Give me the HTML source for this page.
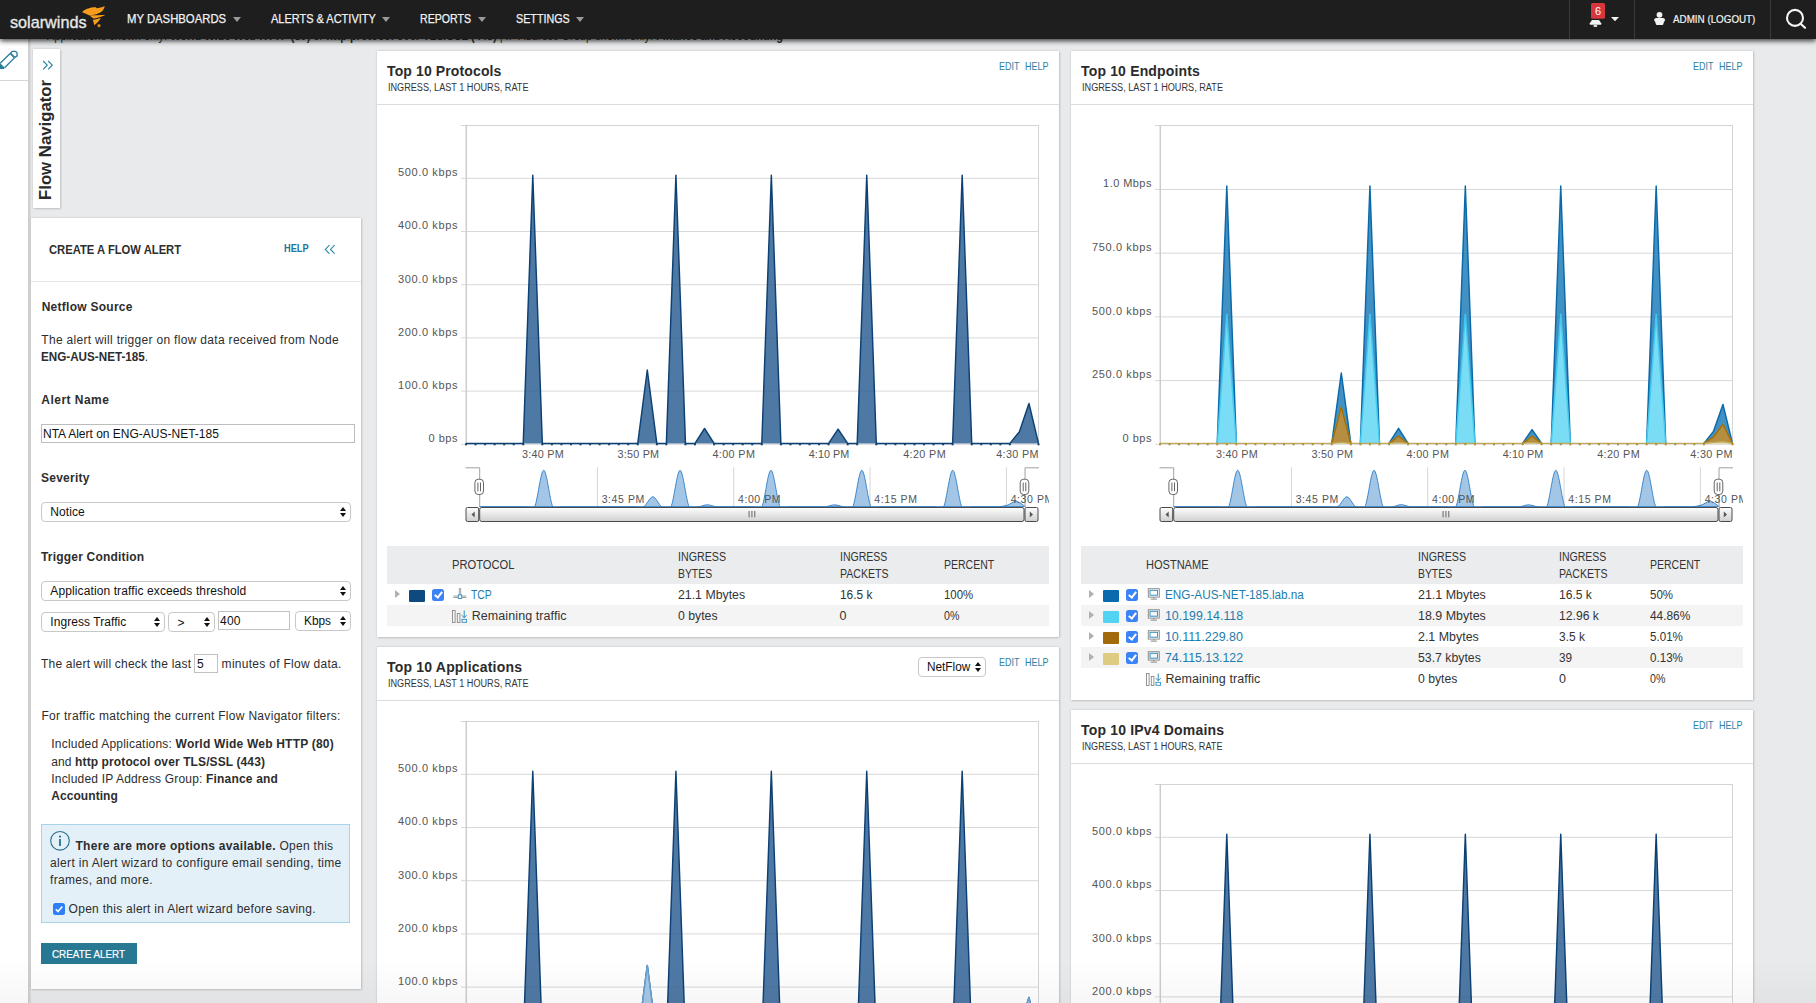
<!DOCTYPE html>
<html><head><meta charset="utf-8"><title>SolarWinds NTA</title>
<style>
html,body{margin:0;padding:0;}
body{width:1816px;height:1003px;overflow:hidden;position:relative;background:#e9eaec;font-family:"Liberation Sans", sans-serif;}
.t{position:absolute;white-space:nowrap;}

.panel{position:absolute;background:#fff;box-shadow:0 0 2px rgba(0,0,0,.18), 1px 1px 2px rgba(0,0,0,.12);}
.hsep{position:absolute;height:1px;background:#dcdcdc;}
.caret{position:absolute;width:0;height:0;border-left:4px solid transparent;border-right:4px solid transparent;border-top:5px solid #9a9a9a;}

.hz{z-index:3;}

.vt{position:absolute;white-space:nowrap;font-size:17px;line-height:17px;font-weight:700;color:#2a2a2a;transform-origin:0 0;}

.sel{position:absolute;background:#fff;border:1px solid #c8c8c8;border-radius:4px;box-sizing:border-box;}
.sel:after{content:"";position:absolute;right:4.3px;top:4px;border-left:3px solid transparent;border-right:3px solid transparent;border-bottom:4px solid #111;}
.sel:before{content:"";position:absolute;right:4.3px;top:10px;border-left:3px solid transparent;border-right:3px solid transparent;border-top:4px solid #111;}
.inp{position:absolute;background:#fff;border:1px solid #c2c2c2;box-sizing:border-box;}

.chk{position:absolute;width:12px;height:12px;border-radius:2.5px;background:#3b83f6;}
.chk:after{content:"";position:absolute;left:3.8px;top:1.3px;width:2.6px;height:6.2px;border:solid #fff;border-width:0 2.1px 2.1px 0;transform:rotate(38deg);}
.tri{position:absolute;width:0;height:0;border-top:4.5px solid transparent;border-bottom:4.5px solid transparent;border-left:5.5px solid #b0b0b0;}

</style></head><body>
<div style="position:absolute;left:0px;top:39px;width:28px;height:964px;background:#fff;"></div><div style="position:absolute;left:0px;top:80px;width:28px;height:1px;background:#d6d6d6;"></div><div style="position:absolute;left:28px;top:39px;width:3px;height:964px;background:linear-gradient(90deg,#c9cacc,#dcdddf);"></div><div style="position:absolute;left:0;top:0;width:1816px;height:39px;background:#1e1e1e;box-shadow:0 2px 5px rgba(0,0,0,.75);z-index:1"></div><div style="position:absolute;left:1569px;top:0;width:1px;height:39px;background:#3a3a3a;z-index:2"></div><div style="position:absolute;left:1634px;top:0;width:1px;height:39px;background:#3a3a3a;z-index:2"></div><div style="position:absolute;left:1770px;top:0;width:1px;height:39px;background:#3a3a3a;z-index:2"></div><svg style="position:absolute;left:76px;top:2px;z-index:3" width="36" height="30" viewBox="76 2 36 30">
<path d="M82 11.9 C85 9.8 88 8.3 91.5 7.6 C93.5 7.2 95 7.1 95.9 7.2 L96.7 8.3 C99 8 102 7.3 104.8 5.9 C104.3 8.5 103 10.6 101 12 C98 13.8 94.5 14.8 91.5 15.3 L89.8 15.6 C87.5 14.5 84.5 13 82 11.9 Z" fill="#f89c1c"/>
<path d="M89.6 15.4 C94 15.2 100 14.9 105.3 14.9 C103 16.4 98 17.6 93.3 18.6 Z" fill="#f89c1c"/>
<path d="M92.9 19.7 C95.5 19.4 98.5 18.7 100.9 18.0 C99.5 20.5 96.5 23.5 94.3 25.2 Z" fill="#f89c1c"/>
<circle cx="99" cy="25.7" r="1.6" fill="#d98816"/>
</svg><div class="caret" style="left:233px;top:16.8px;z-index:3"></div><div class="caret" style="left:382px;top:16.8px;z-index:3"></div><div class="caret" style="left:477.5px;top:16.8px;z-index:3"></div><div class="caret" style="left:575.6px;top:16.8px;z-index:3"></div><svg style="position:absolute;left:1584px;top:0;z-index:3" width="40" height="32" viewBox="1584 0 40 32">
<rect x="1591" y="3" width="14" height="15.7" rx="1.5" fill="#d8363c"/>
<path d="M1592 20 H1599 L1601.2 23.3 V24.8 H1589.8 V23.3 Z" fill="#f2f2f2"/>
<rect x="1593.6" y="24.7" width="3.5" height="2.3" fill="#d8d8d8"/>
<path d="M1611 16.9 H1619 L1615 21.3 Z" fill="#f2f2f2"/>
</svg><svg style="position:absolute;left:1652px;top:10px;z-index:3" width="15" height="17" viewBox="1652 10 15 17">
<circle cx="1659.5" cy="14.8" r="2.9" fill="#f2f2f2"/>
<path d="M1654.2 20 C1654.2 18.6 1655.4 18.1 1657 18.1 H1662.2 C1663.8 18.1 1665 18.6 1665 20 C1665 21 1664.3 21.5 1663.9 22 L1663.4 24 C1663.2 24.8 1662.6 25 1662 25 H1657.2 C1656.6 25 1656 24.8 1655.8 24 L1655.3 22 C1654.9 21.5 1654.2 21 1654.2 20 Z" fill="#f2f2f2"/>
</svg><svg style="position:absolute;left:1782px;top:7px;z-index:3" width="26" height="26" viewBox="0 0 26 26">
<circle cx="13" cy="10.9" r="8" fill="none" stroke="#f4f4f4" stroke-width="2.1"/>
<path d="M18.6 16.8 L23 20.8" stroke="#f4f4f4" stroke-width="2.2" stroke-linecap="round"/>
</svg><svg style="position:absolute;left:0;top:45px" width="28" height="30" viewBox="0 45 28 30">
<path d="M0.2 63.3 L10.7 53.0 M4.6 67.8 L14.6 57.6" fill="none" stroke="#2a7d9c" stroke-width="1.35"/>
<path d="M10.7 53.0 L12.2 51.4 L15.7 51.4 L17.1 52.9 L17.1 55.9 L14.6 57.6" fill="none" stroke="#2a7d9c" stroke-width="1.35"/>
<path d="M10.4 53.4 L14.5 57.5" fill="none" stroke="#2a7d9c" stroke-width="1.8"/>
<path d="M-0.5 62.4 L4.9 67.7 L3.9 68.9 L-0.5 68.9 Z" fill="#2a7d9c"/>
</svg><div class="panel" style="left:33px;top:49px;width:27px;height:159px;"></div><svg style="position:absolute;left:42px;top:60px" width="12" height="11" viewBox="0 0 12 11">
<path d="M1.2 1 L5.2 5.2 L1.2 9.4 M6.2 1 L10.2 5.2 L6.2 9.4" fill="none" stroke="#2c86a6" stroke-width="1.2"/>
</svg><div class="t" style="left:-8.2px;top:131.5px;width:120px;height:17px;"></div><div class="panel" style="left:31px;top:218px;width:330px;height:771px;"></div><div class="hsep" style="left:31px;top:281px;width:330px;background:#e3e3e3;"></div><svg style="position:absolute;left:323px;top:243px" width="14" height="13" viewBox="0 0 14 13">
<path d="M6.4 2.1 L2.3 6.4 L6.4 10.7 M11.6 2.1 L7.5 6.4 L11.6 10.7" fill="none" stroke="#2c86a6" stroke-width="1.1"/>
</svg><div style="position:absolute;left:41px;top:424px;width:312px;height:17px;border:1px solid #bdbdbd;background:#fff;"></div><div class="sel" style="left:41px;top:502px;width:310px;height:20px;"></div><div class="sel" style="left:41px;top:581px;width:310px;height:20px;"></div><div class="sel" style="left:41px;top:612px;width:124px;height:20px;"></div><div class="sel" style="left:168px;top:612px;width:47px;height:20px;"></div><div class="inp" style="left:218px;top:611px;width:72px;height:19px;"></div><div class="sel" style="left:295px;top:611px;width:56px;height:20px;"></div><div class="inp" style="left:194px;top:654px;width:24px;height:19px;"></div><div style="position:absolute;left:41px;top:824px;width:307px;height:97px;background:#e4f0f8;border:1px solid #a8d3e8;"></div><svg style="position:absolute;left:49px;top:830px" width="22" height="22" viewBox="0 0 22 22">
<circle cx="11" cy="10.8" r="9.3" fill="none" stroke="#2a6f8e" stroke-width="1.1"/>
<circle cx="11" cy="6.6" r="1.1" fill="#2a6f8e"/>
<rect x="10.1" y="9" width="1.8" height="7" fill="#2a6f8e"/>
</svg><svg style="position:absolute;left:53px;top:903px" width="12" height="12" viewBox="0 0 12 12">
<rect x="0" y="0" width="12" height="12" rx="2.5" fill="#2d7ff9"/>
<path d="M2.8 6.2 L5 8.5 L9.3 3.5" fill="none" stroke="#fff" stroke-width="1.6"/>
</svg><div style="position:absolute;left:41px;top:943px;width:96px;height:21px;background:#287893;"></div><div class="panel" style="left:377px;top:51px;width:682px;height:586px;"></div><div class="hsep" style="left:377px;top:104px;width:682px;"></div><div class="panel" style="left:377px;top:647px;width:682px;height:400px;"></div><div class="hsep" style="left:377px;top:700px;width:682px;"></div><div class="panel" style="left:1071px;top:51px;width:682px;height:649px;"></div><div class="hsep" style="left:1071px;top:104px;width:682px;"></div><div class="panel" style="left:1071px;top:710px;width:682px;height:340px;"></div><div class="hsep" style="left:1071px;top:763px;width:682px;"></div><svg style="position:absolute;left:377px;top:51px;overflow:hidden" width="682" height="952" viewBox="377 51 682 952"><path d="M461 125.5 H1038.5" stroke="#d4d4d4" stroke-width="1" fill="none"/><path d="M1038.5 125 V444.3" stroke="#d4d4d4" stroke-width="1" fill="none"/><path d="M461 178.3 H1038.5" stroke="#d8d8d8" stroke-width="1" fill="none"/><path d="M461 231.5 H1038.5" stroke="#d8d8d8" stroke-width="1" fill="none"/><path d="M461 284.7 H1038.5" stroke="#d8d8d8" stroke-width="1" fill="none"/><path d="M461 337.9 H1038.5" stroke="#d8d8d8" stroke-width="1" fill="none"/><path d="M461 391.1 H1038.5" stroke="#d8d8d8" stroke-width="1" fill="none"/><path d="M461 444.3 H1038.5" stroke="#d8d8d8" stroke-width="1" fill="none"/><path d="M466.3 125 V444.3" stroke="#cdcdcd" stroke-width="1.5" fill="none"/><polygon points="466.00,443.40 475.54,443.40 485.08,443.40 494.62,443.40 504.17,443.40 513.71,443.40 523.25,443.40 532.79,175.27 542.33,443.40 551.88,443.40 561.42,443.40 570.96,443.40 580.50,443.40 590.04,443.40 599.58,443.40 609.12,443.40 618.67,443.40 628.21,443.40 637.75,443.40 647.29,369.98 656.83,443.40 666.38,443.40 675.92,175.27 685.46,443.40 695.00,443.40 704.54,428.50 714.08,443.40 723.62,443.40 733.17,443.40 742.71,443.40 752.25,443.40 761.79,443.40 771.33,175.27 780.88,443.40 790.42,443.40 799.96,443.40 809.50,443.40 819.04,443.40 828.58,443.40 838.12,429.04 847.67,443.40 857.21,443.40 866.75,175.27 876.29,443.40 885.83,443.40 895.38,443.40 904.92,443.40 914.46,443.40 924.00,443.40 933.54,443.40 943.08,443.40 952.62,443.40 962.17,175.27 971.71,443.40 981.25,443.40 990.79,443.40 1000.33,443.40 1009.88,443.40 1019.42,431.70 1028.96,403.50 1038.50,443.40 1038.50,443.40 1028.96,443.40 1019.42,443.40 1009.88,443.40 1000.33,443.40 990.79,443.40 981.25,443.40 971.71,443.40 962.17,443.40 952.62,443.40 943.08,443.40 933.54,443.40 924.00,443.40 914.46,443.40 904.92,443.40 895.38,443.40 885.83,443.40 876.29,443.40 866.75,443.40 857.21,443.40 847.67,443.40 838.12,443.40 828.58,443.40 819.04,443.40 809.50,443.40 799.96,443.40 790.42,443.40 780.88,443.40 771.33,443.40 761.79,443.40 752.25,443.40 742.71,443.40 733.17,443.40 723.62,443.40 714.08,443.40 704.54,443.40 695.00,443.40 685.46,443.40 675.92,443.40 666.38,443.40 656.83,443.40 647.29,443.40 637.75,443.40 628.21,443.40 618.67,443.40 609.12,443.40 599.58,443.40 590.04,443.40 580.50,443.40 570.96,443.40 561.42,443.40 551.88,443.40 542.33,443.40 532.79,443.40 523.25,443.40 513.71,443.40 504.17,443.40 494.62,443.40 485.08,443.40 475.54,443.40 466.00,443.40" fill="rgba(40,92,145,0.82)" stroke="none"/><polyline points="466.00,443.40 475.54,443.40 485.08,443.40 494.62,443.40 504.17,443.40 513.71,443.40 523.25,443.40 532.79,175.27 542.33,443.40 551.88,443.40 561.42,443.40 570.96,443.40 580.50,443.40 590.04,443.40 599.58,443.40 609.12,443.40 618.67,443.40 628.21,443.40 637.75,443.40 647.29,369.98 656.83,443.40 666.38,443.40 675.92,175.27 685.46,443.40 695.00,443.40 704.54,428.50 714.08,443.40 723.62,443.40 733.17,443.40 742.71,443.40 752.25,443.40 761.79,443.40 771.33,175.27 780.88,443.40 790.42,443.40 799.96,443.40 809.50,443.40 819.04,443.40 828.58,443.40 838.12,429.04 847.67,443.40 857.21,443.40 866.75,175.27 876.29,443.40 885.83,443.40 895.38,443.40 904.92,443.40 914.46,443.40 924.00,443.40 933.54,443.40 943.08,443.40 952.62,443.40 962.17,175.27 971.71,443.40 981.25,443.40 990.79,443.40 1000.33,443.40 1009.88,443.40 1019.42,431.70 1028.96,403.50 1038.50,443.40" fill="none" stroke="#0d4073" stroke-width="1.45" stroke-linejoin="round"/><rect x="465.00" y="443.30" width="2" height="2" fill="#0d4073"/><rect x="474.54" y="443.30" width="2" height="2" fill="#0d4073"/><rect x="484.08" y="443.30" width="2" height="2" fill="#0d4073"/><rect x="493.62" y="443.30" width="2" height="2" fill="#0d4073"/><rect x="503.17" y="443.30" width="2" height="2" fill="#0d4073"/><rect x="512.71" y="443.30" width="2" height="2" fill="#0d4073"/><rect x="522.25" y="443.30" width="2" height="2" fill="#0d4073"/><rect x="541.33" y="443.30" width="2" height="2" fill="#0d4073"/><rect x="550.88" y="443.30" width="2" height="2" fill="#0d4073"/><rect x="560.42" y="443.30" width="2" height="2" fill="#0d4073"/><rect x="569.96" y="443.30" width="2" height="2" fill="#0d4073"/><rect x="579.50" y="443.30" width="2" height="2" fill="#0d4073"/><rect x="589.04" y="443.30" width="2" height="2" fill="#0d4073"/><rect x="598.58" y="443.30" width="2" height="2" fill="#0d4073"/><rect x="608.12" y="443.30" width="2" height="2" fill="#0d4073"/><rect x="617.67" y="443.30" width="2" height="2" fill="#0d4073"/><rect x="627.21" y="443.30" width="2" height="2" fill="#0d4073"/><rect x="636.75" y="443.30" width="2" height="2" fill="#0d4073"/><rect x="655.83" y="443.30" width="2" height="2" fill="#0d4073"/><rect x="665.38" y="443.30" width="2" height="2" fill="#0d4073"/><rect x="684.46" y="443.30" width="2" height="2" fill="#0d4073"/><rect x="694.00" y="443.30" width="2" height="2" fill="#0d4073"/><rect x="713.08" y="443.30" width="2" height="2" fill="#0d4073"/><rect x="722.62" y="443.30" width="2" height="2" fill="#0d4073"/><rect x="732.17" y="443.30" width="2" height="2" fill="#0d4073"/><rect x="741.71" y="443.30" width="2" height="2" fill="#0d4073"/><rect x="751.25" y="443.30" width="2" height="2" fill="#0d4073"/><rect x="760.79" y="443.30" width="2" height="2" fill="#0d4073"/><rect x="779.88" y="443.30" width="2" height="2" fill="#0d4073"/><rect x="789.42" y="443.30" width="2" height="2" fill="#0d4073"/><rect x="798.96" y="443.30" width="2" height="2" fill="#0d4073"/><rect x="808.50" y="443.30" width="2" height="2" fill="#0d4073"/><rect x="818.04" y="443.30" width="2" height="2" fill="#0d4073"/><rect x="827.58" y="443.30" width="2" height="2" fill="#0d4073"/><rect x="846.67" y="443.30" width="2" height="2" fill="#0d4073"/><rect x="856.21" y="443.30" width="2" height="2" fill="#0d4073"/><rect x="875.29" y="443.30" width="2" height="2" fill="#0d4073"/><rect x="884.83" y="443.30" width="2" height="2" fill="#0d4073"/><rect x="894.38" y="443.30" width="2" height="2" fill="#0d4073"/><rect x="903.92" y="443.30" width="2" height="2" fill="#0d4073"/><rect x="913.46" y="443.30" width="2" height="2" fill="#0d4073"/><rect x="923.00" y="443.30" width="2" height="2" fill="#0d4073"/><rect x="932.54" y="443.30" width="2" height="2" fill="#0d4073"/><rect x="942.08" y="443.30" width="2" height="2" fill="#0d4073"/><rect x="951.62" y="443.30" width="2" height="2" fill="#0d4073"/><rect x="970.71" y="443.30" width="2" height="2" fill="#0d4073"/><rect x="980.25" y="443.30" width="2" height="2" fill="#0d4073"/><rect x="989.79" y="443.30" width="2" height="2" fill="#0d4073"/><rect x="999.33" y="443.30" width="2" height="2" fill="#0d4073"/><rect x="1008.88" y="443.30" width="2" height="2" fill="#0d4073"/><rect x="1037.50" y="443.30" width="2" height="2" fill="#0d4073"/></svg><svg style="position:absolute;left:377px;top:451px;overflow:visible" width="682" height="80" viewBox="377 451 682 80"><path d="M597.4 467.3 V506.8" stroke="#d6d6d6" stroke-width="1" fill="none"/><path d="M733.7 467.3 V506.8" stroke="#d6d6d6" stroke-width="1" fill="none"/><path d="M870.0 467.3 V506.8" stroke="#d6d6d6" stroke-width="1" fill="none"/><path d="M1006.4 467.3 V506.8" stroke="#d6d6d6" stroke-width="1" fill="none"/><path d="M480.10,506.80 C481.61,506.80 486.16,506.80 489.19,506.80 C492.22,506.80 495.25,506.80 498.28,506.80 C501.31,506.80 504.34,506.80 507.37,506.80 C510.40,506.80 513.43,506.80 516.46,506.80 C519.49,506.80 522.52,506.80 525.54,506.80 C528.57,506.80 531.60,512.88 534.63,506.80 C537.66,500.72 540.69,470.30 543.72,470.30 C546.75,470.30 549.78,500.72 552.81,506.80 C555.84,512.88 558.87,506.80 561.90,506.80 C564.93,506.80 567.96,506.80 570.99,506.80 C574.02,506.80 577.05,506.80 580.08,506.80 C583.11,506.80 586.14,506.80 589.17,506.80 C592.20,506.80 595.23,506.80 598.26,506.80 C601.29,506.80 604.32,506.80 607.35,506.80 C610.38,506.80 613.41,506.80 616.43,506.80 C619.46,506.80 622.49,506.80 625.52,506.80 C628.55,506.80 631.58,506.80 634.61,506.80 C637.64,506.80 640.67,508.47 643.70,506.80 C646.73,505.13 649.76,496.81 652.79,496.81 C655.82,496.81 658.85,505.13 661.88,506.80 C664.91,508.47 667.94,512.88 670.97,506.80 C674.00,500.72 677.03,470.30 680.06,470.30 C683.09,470.30 686.12,500.72 689.15,506.80 C692.18,512.88 695.21,507.14 698.24,506.80 C701.27,506.46 704.30,504.77 707.33,504.77 C710.35,504.77 713.38,506.46 716.41,506.80 C719.44,507.14 722.47,506.80 725.50,506.80 C728.53,506.80 731.56,506.80 734.59,506.80 C737.62,506.80 740.65,506.80 743.68,506.80 C746.71,506.80 749.74,506.80 752.77,506.80 C755.80,506.80 758.83,512.88 761.86,506.80 C764.89,500.72 767.92,470.30 770.95,470.30 C773.98,470.30 777.01,500.72 780.04,506.80 C783.07,512.88 786.10,506.80 789.13,506.80 C792.16,506.80 795.19,506.80 798.21,506.80 C801.24,506.80 804.27,506.80 807.30,506.80 C810.33,506.80 813.36,506.80 816.39,506.80 C819.42,506.80 822.45,507.13 825.48,506.80 C828.51,506.47 831.54,504.84 834.57,504.84 C837.60,504.84 840.63,506.47 843.66,506.80 C846.69,507.13 849.72,512.88 852.75,506.80 C855.78,500.72 858.81,470.30 861.84,470.30 C864.87,470.30 867.90,500.72 870.93,506.80 C873.96,512.88 876.99,506.80 880.02,506.80 C883.05,506.80 886.08,506.80 889.11,506.80 C892.13,506.80 895.16,506.80 898.19,506.80 C901.22,506.80 904.25,506.80 907.28,506.80 C910.31,506.80 913.34,506.80 916.37,506.80 C919.40,506.80 922.43,506.80 925.46,506.80 C928.49,506.80 931.52,506.80 934.55,506.80 C937.58,506.80 940.61,512.88 943.64,506.80 C946.67,500.72 949.70,470.30 952.73,470.30 C955.76,470.30 958.79,500.72 961.82,506.80 C964.85,512.88 967.88,506.80 970.91,506.80 C973.94,506.80 976.97,506.80 980.00,506.80 C983.02,506.80 986.05,506.80 989.08,506.80 C992.11,506.80 995.14,507.07 998.17,506.80 C1001.20,506.53 1004.23,506.11 1007.26,505.21 C1010.29,504.30 1013.32,501.10 1016.35,501.37 C1019.38,501.63 1023.93,505.89 1025.44,506.80 L1024.54,506.8 L479.20,506.8 Z" fill="#a3c6e6" stroke="none"/><path d="M480.10,506.80 C481.61,506.80 486.16,506.80 489.19,506.80 C492.22,506.80 495.25,506.80 498.28,506.80 C501.31,506.80 504.34,506.80 507.37,506.80 C510.40,506.80 513.43,506.80 516.46,506.80 C519.49,506.80 522.52,506.80 525.54,506.80 C528.57,506.80 531.60,512.88 534.63,506.80 C537.66,500.72 540.69,470.30 543.72,470.30 C546.75,470.30 549.78,500.72 552.81,506.80 C555.84,512.88 558.87,506.80 561.90,506.80 C564.93,506.80 567.96,506.80 570.99,506.80 C574.02,506.80 577.05,506.80 580.08,506.80 C583.11,506.80 586.14,506.80 589.17,506.80 C592.20,506.80 595.23,506.80 598.26,506.80 C601.29,506.80 604.32,506.80 607.35,506.80 C610.38,506.80 613.41,506.80 616.43,506.80 C619.46,506.80 622.49,506.80 625.52,506.80 C628.55,506.80 631.58,506.80 634.61,506.80 C637.64,506.80 640.67,508.47 643.70,506.80 C646.73,505.13 649.76,496.81 652.79,496.81 C655.82,496.81 658.85,505.13 661.88,506.80 C664.91,508.47 667.94,512.88 670.97,506.80 C674.00,500.72 677.03,470.30 680.06,470.30 C683.09,470.30 686.12,500.72 689.15,506.80 C692.18,512.88 695.21,507.14 698.24,506.80 C701.27,506.46 704.30,504.77 707.33,504.77 C710.35,504.77 713.38,506.46 716.41,506.80 C719.44,507.14 722.47,506.80 725.50,506.80 C728.53,506.80 731.56,506.80 734.59,506.80 C737.62,506.80 740.65,506.80 743.68,506.80 C746.71,506.80 749.74,506.80 752.77,506.80 C755.80,506.80 758.83,512.88 761.86,506.80 C764.89,500.72 767.92,470.30 770.95,470.30 C773.98,470.30 777.01,500.72 780.04,506.80 C783.07,512.88 786.10,506.80 789.13,506.80 C792.16,506.80 795.19,506.80 798.21,506.80 C801.24,506.80 804.27,506.80 807.30,506.80 C810.33,506.80 813.36,506.80 816.39,506.80 C819.42,506.80 822.45,507.13 825.48,506.80 C828.51,506.47 831.54,504.84 834.57,504.84 C837.60,504.84 840.63,506.47 843.66,506.80 C846.69,507.13 849.72,512.88 852.75,506.80 C855.78,500.72 858.81,470.30 861.84,470.30 C864.87,470.30 867.90,500.72 870.93,506.80 C873.96,512.88 876.99,506.80 880.02,506.80 C883.05,506.80 886.08,506.80 889.11,506.80 C892.13,506.80 895.16,506.80 898.19,506.80 C901.22,506.80 904.25,506.80 907.28,506.80 C910.31,506.80 913.34,506.80 916.37,506.80 C919.40,506.80 922.43,506.80 925.46,506.80 C928.49,506.80 931.52,506.80 934.55,506.80 C937.58,506.80 940.61,512.88 943.64,506.80 C946.67,500.72 949.70,470.30 952.73,470.30 C955.76,470.30 958.79,500.72 961.82,506.80 C964.85,512.88 967.88,506.80 970.91,506.80 C973.94,506.80 976.97,506.80 980.00,506.80 C983.02,506.80 986.05,506.80 989.08,506.80 C992.11,506.80 995.14,507.07 998.17,506.80 C1001.20,506.53 1004.23,506.11 1007.26,505.21 C1010.29,504.30 1013.32,501.10 1016.35,501.37 C1019.38,501.63 1023.93,505.89 1025.44,506.80" fill="none" stroke="#2f7ec6" stroke-width="0.9"/><path d="M479.2 506.6 H1024.5" stroke="#2f7ec6" stroke-width="0.9"/><path d="M465.5 467.8 H479.7 V506.8" stroke="#a0a0a0" stroke-width="1" fill="none"/><path d="M1039.0 467.8 H1025.04 V506.8" stroke="#a0a0a0" stroke-width="1" fill="none"/><defs><linearGradient id="sbg37751" x1="0" y1="0" x2="0" y2="1"><stop offset="0" stop-color="#ffffff"/><stop offset="1" stop-color="#cfcfcf"/></linearGradient></defs><rect x="466.0" y="507.5" width="12.699999999999989" height="14" rx="1.5" fill="url(#sbg37751)" stroke="#4a4a4a" stroke-width="1"/><rect x="479.7" y="507.5" width="544.3" height="14" rx="2" fill="url(#sbg37751)" stroke="#4a4a4a" stroke-width="1"/><rect x="1025.0" y="507.5" width="13.0" height="14" rx="1.5" fill="url(#sbg37751)" stroke="#4a4a4a" stroke-width="1"/><path d="M474.7 511.5 V517.5 L471.5 514.5 Z" fill="#555"/><path d="M1029.8 511.5 V517.5 L1033.0 514.5 Z" fill="#555"/><rect x="748.4" y="511" width="1.4" height="6.3" fill="#8a8a8a"/><rect x="751.2" y="511" width="1.4" height="6.3" fill="#8a8a8a"/><rect x="754.0" y="511" width="1.4" height="6.3" fill="#8a8a8a"/><rect x="474.9" y="479.2" width="8.6" height="15.3" rx="3.5" fill="#fff" stroke="#555" stroke-width="0.9"/><path d="M477.9 482.5 V491.3 M480.5 482.5 V491.3" stroke="#555" stroke-width="0.9"/><rect x="1020.2" y="479.2" width="8.6" height="15.3" rx="3.5" fill="#fff" stroke="#555" stroke-width="0.9"/><path d="M1023.2 482.5 V491.3 M1025.8 482.5 V491.3" stroke="#555" stroke-width="0.9"/></svg><div style="position:absolute;left:387px;top:546px;width:662px;height:37.700000000000045px;background:#ebecee"></div><div class="tri" style="left:394.9px;top:590.1px"></div><div style="position:absolute;left:408.9px;top:589.7px;width:16px;height:12.3px;border-radius:1px;background:#0e4a80"></div><div class="chk" style="left:432px;top:589.0px"></div><svg style="position:absolute;left:452.5px;top:588.1px" width="14" height="12" viewBox="0 0 14 12">
<path d="M6.3 0 V7.5 M7.7 0 V7.5 M0.3 8.1 H5.2 M8.8 8.1 H13.3 M0.3 9.5 H5.2 M8.8 9.5 H13.3" stroke="#8a8a8a" stroke-width="0.8" fill="none"/>
<rect x="5.3" y="6.9" width="3.4" height="3.6" fill="#fff" stroke="#2b8fc0" stroke-width="0.9"/>
</svg><div style="position:absolute;left:387px;top:604.7px;width:662px;height:21px;background:#f4f4f5"></div><svg style="position:absolute;left:452px;top:610.4px" width="16" height="13" viewBox="0 0 16 13">
<rect x="0.5" y="0.5" width="2.6" height="12" fill="none" stroke="#8a8a8a" stroke-width="0.9"/>
<rect x="5.3" y="3.5" width="2.6" height="9" fill="none" stroke="#8a8a8a" stroke-width="0.9"/>
<path d="M12.2 0.5 V7.6 M9.8 5.2 L12.2 7.8 L14.6 5.2" stroke="#2b8fc0" stroke-width="1" fill="none"/>
<rect x="10" y="9.3" width="4.4" height="3" fill="none" stroke="#2b8fc0" stroke-width="0.9"/>
</svg><div style="position:absolute;left:1081px;top:546px;width:662px;height:37.700000000000045px;background:#ebecee"></div><div class="tri" style="left:1088.9px;top:590.1px"></div><div style="position:absolute;left:1102.9px;top:589.7px;width:16px;height:12.3px;border-radius:1px;background:#0b6aad"></div><div class="chk" style="left:1126px;top:589.0px"></div><svg style="position:absolute;left:1146.5px;top:588.1px" width="14" height="14" viewBox="0 0 14 14">
<rect x="1.3" y="0.7" width="11" height="8.4" fill="none" stroke="#8a8a8a" stroke-width="0.95"/>
<rect x="3.0" y="2.3" width="7.6" height="4.9" fill="none" stroke="#2d8fbf" stroke-width="0.95"/>
<path d="M6.8 9.1 V10.6 M3.6 11.1 H10.0" stroke="#8a8a8a" stroke-width="1" fill="none"/>
</svg><div style="position:absolute;left:1081px;top:604.7px;width:662px;height:21px;background:#f4f4f5"></div><div class="tri" style="left:1088.9px;top:611.1px"></div><div style="position:absolute;left:1102.9px;top:610.7px;width:16px;height:12.3px;border-radius:1px;background:#52d3f3"></div><div class="chk" style="left:1126px;top:610.0px"></div><svg style="position:absolute;left:1146.5px;top:609.1px" width="14" height="14" viewBox="0 0 14 14">
<rect x="1.3" y="0.7" width="11" height="8.4" fill="none" stroke="#8a8a8a" stroke-width="0.95"/>
<rect x="3.0" y="2.3" width="7.6" height="4.9" fill="none" stroke="#2d8fbf" stroke-width="0.95"/>
<path d="M6.8 9.1 V10.6 M3.6 11.1 H10.0" stroke="#8a8a8a" stroke-width="1" fill="none"/>
</svg><div class="tri" style="left:1088.9px;top:632.1px"></div><div style="position:absolute;left:1102.9px;top:631.7px;width:16px;height:12.3px;border-radius:1px;background:#a26a0c"></div><div class="chk" style="left:1126px;top:631.0px"></div><svg style="position:absolute;left:1146.5px;top:630.1px" width="14" height="14" viewBox="0 0 14 14">
<rect x="1.3" y="0.7" width="11" height="8.4" fill="none" stroke="#8a8a8a" stroke-width="0.95"/>
<rect x="3.0" y="2.3" width="7.6" height="4.9" fill="none" stroke="#2d8fbf" stroke-width="0.95"/>
<path d="M6.8 9.1 V10.6 M3.6 11.1 H10.0" stroke="#8a8a8a" stroke-width="1" fill="none"/>
</svg><div style="position:absolute;left:1081px;top:646.7px;width:662px;height:21px;background:#f4f4f5"></div><div class="tri" style="left:1088.9px;top:653.1px"></div><div style="position:absolute;left:1102.9px;top:652.7px;width:16px;height:12.3px;border-radius:1px;background:#dccb80"></div><div class="chk" style="left:1126px;top:652.0px"></div><svg style="position:absolute;left:1146.5px;top:651.1px" width="14" height="14" viewBox="0 0 14 14">
<rect x="1.3" y="0.7" width="11" height="8.4" fill="none" stroke="#8a8a8a" stroke-width="0.95"/>
<rect x="3.0" y="2.3" width="7.6" height="4.9" fill="none" stroke="#2d8fbf" stroke-width="0.95"/>
<path d="M6.8 9.1 V10.6 M3.6 11.1 H10.0" stroke="#8a8a8a" stroke-width="1" fill="none"/>
</svg><svg style="position:absolute;left:1146px;top:673.4px" width="16" height="13" viewBox="0 0 16 13">
<rect x="0.5" y="0.5" width="2.6" height="12" fill="none" stroke="#8a8a8a" stroke-width="0.9"/>
<rect x="5.3" y="3.5" width="2.6" height="9" fill="none" stroke="#8a8a8a" stroke-width="0.9"/>
<path d="M12.2 0.5 V7.6 M9.8 5.2 L12.2 7.8 L14.6 5.2" stroke="#2b8fc0" stroke-width="1" fill="none"/>
<rect x="10" y="9.3" width="4.4" height="3" fill="none" stroke="#2b8fc0" stroke-width="0.9"/>
</svg><svg style="position:absolute;left:1071px;top:51px;overflow:hidden" width="682" height="952" viewBox="1071 51 682 952"><path d="M1155 125.5 H1732.5" stroke="#d4d4d4" stroke-width="1" fill="none"/><path d="M1732.5 125 V444.3" stroke="#d4d4d4" stroke-width="1" fill="none"/><path d="M1155 189.5 H1732.5" stroke="#d8d8d8" stroke-width="1" fill="none"/><path d="M1155 253.2 H1732.5" stroke="#d8d8d8" stroke-width="1" fill="none"/><path d="M1155 316.9 H1732.5" stroke="#d8d8d8" stroke-width="1" fill="none"/><path d="M1155 380.6 H1732.5" stroke="#d8d8d8" stroke-width="1" fill="none"/><path d="M1155 444.3 H1732.5" stroke="#d8d8d8" stroke-width="1" fill="none"/><path d="M1160.3 125 V444.3" stroke="#cdcdcd" stroke-width="1.5" fill="none"/><polygon points="1160.00,443.40 1169.54,443.40 1179.08,443.40 1188.62,443.40 1198.17,443.40 1207.71,443.40 1217.25,443.40 1226.79,186.05 1236.33,443.40 1245.88,443.40 1255.42,443.40 1264.96,443.40 1274.50,443.40 1284.04,443.40 1293.58,443.40 1303.12,443.40 1312.67,443.40 1322.21,443.40 1331.75,443.40 1341.29,373.08 1350.83,443.40 1360.38,443.40 1369.92,186.05 1379.46,443.40 1389.00,443.40 1398.54,428.37 1408.08,443.40 1417.62,443.40 1427.17,443.40 1436.71,443.40 1446.25,443.40 1455.79,443.40 1465.33,186.05 1474.88,443.40 1484.42,443.40 1493.96,443.40 1503.50,443.40 1513.04,443.40 1522.58,443.40 1532.12,429.64 1541.67,443.40 1551.21,443.40 1560.75,186.05 1570.29,443.40 1579.83,443.40 1589.38,443.40 1598.92,443.40 1608.46,443.40 1618.00,443.40 1627.54,443.40 1637.08,443.40 1646.62,443.40 1656.17,186.05 1665.71,443.40 1675.25,443.40 1684.79,443.40 1694.33,443.40 1703.88,443.40 1713.42,431.42 1722.96,404.42 1732.50,443.40 1732.50,443.40 1722.96,424.29 1713.42,436.78 1703.88,443.40 1694.33,443.40 1684.79,443.40 1675.25,443.40 1665.71,443.40 1656.17,314.22 1646.62,443.40 1637.08,443.40 1627.54,443.40 1618.00,443.40 1608.46,443.40 1598.92,443.40 1589.38,443.40 1579.83,443.40 1570.29,443.40 1560.75,314.22 1551.21,443.40 1541.67,443.40 1532.12,436.01 1522.58,443.40 1513.04,443.40 1503.50,443.40 1493.96,443.40 1484.42,443.40 1474.88,443.40 1465.33,314.22 1455.79,443.40 1446.25,443.40 1436.71,443.40 1427.17,443.40 1417.62,443.40 1408.08,443.40 1398.54,436.01 1389.00,443.40 1379.46,443.40 1369.92,314.22 1360.38,443.40 1350.83,443.40 1341.29,406.71 1331.75,443.40 1322.21,443.40 1312.67,443.40 1303.12,443.40 1293.58,443.40 1284.04,443.40 1274.50,443.40 1264.96,443.40 1255.42,443.40 1245.88,443.40 1236.33,443.40 1226.79,314.22 1217.25,443.40 1207.71,443.40 1198.17,443.40 1188.62,443.40 1179.08,443.40 1169.54,443.40 1160.00,443.40" fill="rgba(18,118,182,0.80)" stroke="none"/><path d="M1217.25,443.40 L1226.79,186.05 M1226.79,186.05 L1236.33,443.40 M1331.75,443.40 L1341.29,373.08 M1341.29,373.08 L1350.83,443.40 M1360.38,443.40 L1369.92,186.05 M1369.92,186.05 L1379.46,443.40 M1389.00,443.40 L1398.54,428.37 M1398.54,428.37 L1408.08,443.40 M1455.79,443.40 L1465.33,186.05 M1465.33,186.05 L1474.88,443.40 M1522.58,443.40 L1532.12,429.64 M1532.12,429.64 L1541.67,443.40 M1551.21,443.40 L1560.75,186.05 M1560.75,186.05 L1570.29,443.40 M1646.62,443.40 L1656.17,186.05 M1656.17,186.05 L1665.71,443.40 M1703.88,443.40 L1713.42,431.42 M1713.42,431.42 L1722.96,404.42 M1722.96,404.42 L1732.50,443.40 " fill="none" stroke="#0b69a9" stroke-width="1.45" stroke-linejoin="round" stroke-linecap="round"/><polygon points="1160.00,443.40 1169.54,443.40 1179.08,443.40 1188.62,443.40 1198.17,443.40 1207.71,443.40 1217.25,443.40 1226.79,314.22 1236.33,443.40 1245.88,443.40 1255.42,443.40 1264.96,443.40 1274.50,443.40 1284.04,443.40 1293.58,443.40 1303.12,443.40 1312.67,443.40 1322.21,443.40 1331.75,443.40 1341.29,406.71 1350.83,443.40 1360.38,443.40 1369.92,314.22 1379.46,443.40 1389.00,443.40 1398.54,436.01 1408.08,443.40 1417.62,443.40 1427.17,443.40 1436.71,443.40 1446.25,443.40 1455.79,443.40 1465.33,314.22 1474.88,443.40 1484.42,443.40 1493.96,443.40 1503.50,443.40 1513.04,443.40 1522.58,443.40 1532.12,436.01 1541.67,443.40 1551.21,443.40 1560.75,314.22 1570.29,443.40 1579.83,443.40 1589.38,443.40 1598.92,443.40 1608.46,443.40 1618.00,443.40 1627.54,443.40 1637.08,443.40 1646.62,443.40 1656.17,314.22 1665.71,443.40 1675.25,443.40 1684.79,443.40 1694.33,443.40 1703.88,443.40 1713.42,436.78 1722.96,424.29 1732.50,443.40 1732.50,443.40 1722.96,424.29 1713.42,436.78 1703.88,443.40 1694.33,443.40 1684.79,443.40 1675.25,443.40 1665.71,443.40 1656.17,443.40 1646.62,443.40 1637.08,443.40 1627.54,443.40 1618.00,443.40 1608.46,443.40 1598.92,443.40 1589.38,443.40 1579.83,443.40 1570.29,443.40 1560.75,443.40 1551.21,443.40 1541.67,443.40 1532.12,436.01 1522.58,443.40 1513.04,443.40 1503.50,443.40 1493.96,443.40 1484.42,443.40 1474.88,443.40 1465.33,443.40 1455.79,443.40 1446.25,443.40 1436.71,443.40 1427.17,443.40 1417.62,443.40 1408.08,443.40 1398.54,436.01 1389.00,443.40 1379.46,443.40 1369.92,443.40 1360.38,443.40 1350.83,443.40 1341.29,406.71 1331.75,443.40 1322.21,443.40 1312.67,443.40 1303.12,443.40 1293.58,443.40 1284.04,443.40 1274.50,443.40 1264.96,443.40 1255.42,443.40 1245.88,443.40 1236.33,443.40 1226.79,443.40 1217.25,443.40 1207.71,443.40 1198.17,443.40 1188.62,443.40 1179.08,443.40 1169.54,443.40 1160.00,443.40" fill="rgba(118,220,245,0.97)" stroke="none"/><path d="M1217.25,443.40 L1226.79,314.22 M1226.79,314.22 L1236.33,443.40 M1331.75,443.40 L1341.29,406.71 M1341.29,406.71 L1350.83,443.40 M1360.38,443.40 L1369.92,314.22 M1369.92,314.22 L1379.46,443.40 M1389.00,443.40 L1398.54,436.01 M1398.54,436.01 L1408.08,443.40 M1455.79,443.40 L1465.33,314.22 M1465.33,314.22 L1474.88,443.40 M1522.58,443.40 L1532.12,436.01 M1532.12,436.01 L1541.67,443.40 M1551.21,443.40 L1560.75,314.22 M1560.75,314.22 L1570.29,443.40 M1646.62,443.40 L1656.17,314.22 M1656.17,314.22 L1665.71,443.40 M1703.88,443.40 L1713.42,436.78 M1713.42,436.78 L1722.96,424.29 M1722.96,424.29 L1732.50,443.40 " fill="none" stroke="#3fcbef" stroke-width="1.45" stroke-linejoin="round" stroke-linecap="round"/><polygon points="1160.00,443.40 1169.54,443.40 1179.08,443.40 1188.62,443.40 1198.17,443.40 1207.71,443.40 1217.25,443.40 1226.79,443.40 1236.33,443.40 1245.88,443.40 1255.42,443.40 1264.96,443.40 1274.50,443.40 1284.04,443.40 1293.58,443.40 1303.12,443.40 1312.67,443.40 1322.21,443.40 1331.75,443.40 1341.29,406.71 1350.83,443.40 1360.38,443.40 1369.92,443.40 1379.46,443.40 1389.00,443.40 1398.54,436.01 1408.08,443.40 1417.62,443.40 1427.17,443.40 1436.71,443.40 1446.25,443.40 1455.79,443.40 1465.33,443.40 1474.88,443.40 1484.42,443.40 1493.96,443.40 1503.50,443.40 1513.04,443.40 1522.58,443.40 1532.12,436.01 1541.67,443.40 1551.21,443.40 1560.75,443.40 1570.29,443.40 1579.83,443.40 1589.38,443.40 1598.92,443.40 1608.46,443.40 1618.00,443.40 1627.54,443.40 1637.08,443.40 1646.62,443.40 1656.17,443.40 1665.71,443.40 1675.25,443.40 1684.79,443.40 1694.33,443.40 1703.88,443.40 1713.42,436.78 1722.96,424.29 1732.50,443.40 1732.50,443.40 1722.96,441.62 1713.42,442.38 1703.88,443.40 1694.33,443.40 1684.79,443.40 1675.25,443.40 1665.71,443.40 1656.17,443.40 1646.62,443.40 1637.08,443.40 1627.54,443.40 1618.00,443.40 1608.46,443.40 1598.92,443.40 1589.38,443.40 1579.83,443.40 1570.29,443.40 1560.75,443.40 1551.21,443.40 1541.67,443.40 1532.12,442.64 1522.58,443.40 1513.04,443.40 1503.50,443.40 1493.96,443.40 1484.42,443.40 1474.88,443.40 1465.33,443.40 1455.79,443.40 1446.25,443.40 1436.71,443.40 1427.17,443.40 1417.62,443.40 1408.08,443.40 1398.54,442.64 1389.00,443.40 1379.46,443.40 1369.92,443.40 1360.38,443.40 1350.83,443.40 1341.29,442.38 1331.75,443.40 1322.21,443.40 1312.67,443.40 1303.12,443.40 1293.58,443.40 1284.04,443.40 1274.50,443.40 1264.96,443.40 1255.42,443.40 1245.88,443.40 1236.33,443.40 1226.79,443.40 1217.25,443.40 1207.71,443.40 1198.17,443.40 1188.62,443.40 1179.08,443.40 1169.54,443.40 1160.00,443.40" fill="rgba(176,132,50,0.92)" stroke="none"/><path d="M1331.75,443.40 L1341.29,406.71 M1341.29,406.71 L1350.83,443.40 M1389.00,443.40 L1398.54,436.01 M1398.54,436.01 L1408.08,443.40 M1522.58,443.40 L1532.12,436.01 M1532.12,436.01 L1541.67,443.40 M1703.88,443.40 L1713.42,436.78 M1713.42,436.78 L1722.96,424.29 M1722.96,424.29 L1732.50,443.40 " fill="none" stroke="#a56c00" stroke-width="1.45" stroke-linejoin="round" stroke-linecap="round"/><polygon points="1160.00,443.40 1169.54,443.40 1179.08,443.40 1188.62,443.40 1198.17,443.40 1207.71,443.40 1217.25,443.40 1226.79,443.40 1236.33,443.40 1245.88,443.40 1255.42,443.40 1264.96,443.40 1274.50,443.40 1284.04,443.40 1293.58,443.40 1303.12,443.40 1312.67,443.40 1322.21,443.40 1331.75,443.40 1341.29,442.38 1350.83,443.40 1360.38,443.40 1369.92,443.40 1379.46,443.40 1389.00,443.40 1398.54,442.64 1408.08,443.40 1417.62,443.40 1427.17,443.40 1436.71,443.40 1446.25,443.40 1455.79,443.40 1465.33,443.40 1474.88,443.40 1484.42,443.40 1493.96,443.40 1503.50,443.40 1513.04,443.40 1522.58,443.40 1532.12,442.64 1541.67,443.40 1551.21,443.40 1560.75,443.40 1570.29,443.40 1579.83,443.40 1589.38,443.40 1598.92,443.40 1608.46,443.40 1618.00,443.40 1627.54,443.40 1637.08,443.40 1646.62,443.40 1656.17,443.40 1665.71,443.40 1675.25,443.40 1684.79,443.40 1694.33,443.40 1703.88,443.40 1713.42,442.38 1722.96,441.62 1732.50,443.40 1732.50,443.40 1722.96,443.40 1713.42,443.40 1703.88,443.40 1694.33,443.40 1684.79,443.40 1675.25,443.40 1665.71,443.40 1656.17,443.40 1646.62,443.40 1637.08,443.40 1627.54,443.40 1618.00,443.40 1608.46,443.40 1598.92,443.40 1589.38,443.40 1579.83,443.40 1570.29,443.40 1560.75,443.40 1551.21,443.40 1541.67,443.40 1532.12,443.40 1522.58,443.40 1513.04,443.40 1503.50,443.40 1493.96,443.40 1484.42,443.40 1474.88,443.40 1465.33,443.40 1455.79,443.40 1446.25,443.40 1436.71,443.40 1427.17,443.40 1417.62,443.40 1408.08,443.40 1398.54,443.40 1389.00,443.40 1379.46,443.40 1369.92,443.40 1360.38,443.40 1350.83,443.40 1341.29,443.40 1331.75,443.40 1322.21,443.40 1312.67,443.40 1303.12,443.40 1293.58,443.40 1284.04,443.40 1274.50,443.40 1264.96,443.40 1255.42,443.40 1245.88,443.40 1236.33,443.40 1226.79,443.40 1217.25,443.40 1207.71,443.40 1198.17,443.40 1188.62,443.40 1179.08,443.40 1169.54,443.40 1160.00,443.40" fill="#d8c77c" stroke="none"/><polyline points="1160.00,443.40 1169.54,443.40 1179.08,443.40 1188.62,443.40 1198.17,443.40 1207.71,443.40 1217.25,443.40 1226.79,443.40 1236.33,443.40 1245.88,443.40 1255.42,443.40 1264.96,443.40 1274.50,443.40 1284.04,443.40 1293.58,443.40 1303.12,443.40 1312.67,443.40 1322.21,443.40 1331.75,443.40 1341.29,442.38 1350.83,443.40 1360.38,443.40 1369.92,443.40 1379.46,443.40 1389.00,443.40 1398.54,442.64 1408.08,443.40 1417.62,443.40 1427.17,443.40 1436.71,443.40 1446.25,443.40 1455.79,443.40 1465.33,443.40 1474.88,443.40 1484.42,443.40 1493.96,443.40 1503.50,443.40 1513.04,443.40 1522.58,443.40 1532.12,442.64 1541.67,443.40 1551.21,443.40 1560.75,443.40 1570.29,443.40 1579.83,443.40 1589.38,443.40 1598.92,443.40 1608.46,443.40 1618.00,443.40 1627.54,443.40 1637.08,443.40 1646.62,443.40 1656.17,443.40 1665.71,443.40 1675.25,443.40 1684.79,443.40 1694.33,443.40 1703.88,443.40 1713.42,442.38 1722.96,441.62 1732.50,443.40" fill="none" stroke="#bfa95a" stroke-width="1.1" stroke-linejoin="round"/><rect x="1159.00" y="443.30" width="2" height="2" fill="#b0902a"/><rect x="1168.54" y="443.30" width="2" height="2" fill="#b0902a"/><rect x="1178.08" y="443.30" width="2" height="2" fill="#b0902a"/><rect x="1187.62" y="443.30" width="2" height="2" fill="#b0902a"/><rect x="1197.17" y="443.30" width="2" height="2" fill="#b0902a"/><rect x="1206.71" y="443.30" width="2" height="2" fill="#b0902a"/><rect x="1216.25" y="443.30" width="2" height="2" fill="#b0902a"/><rect x="1225.79" y="443.30" width="2" height="2" fill="#b0902a"/><rect x="1235.33" y="443.30" width="2" height="2" fill="#b0902a"/><rect x="1244.88" y="443.30" width="2" height="2" fill="#b0902a"/><rect x="1254.42" y="443.30" width="2" height="2" fill="#b0902a"/><rect x="1263.96" y="443.30" width="2" height="2" fill="#b0902a"/><rect x="1273.50" y="443.30" width="2" height="2" fill="#b0902a"/><rect x="1283.04" y="443.30" width="2" height="2" fill="#b0902a"/><rect x="1292.58" y="443.30" width="2" height="2" fill="#b0902a"/><rect x="1302.12" y="443.30" width="2" height="2" fill="#b0902a"/><rect x="1311.67" y="443.30" width="2" height="2" fill="#b0902a"/><rect x="1321.21" y="443.30" width="2" height="2" fill="#b0902a"/><rect x="1330.75" y="443.30" width="2" height="2" fill="#b0902a"/><rect x="1349.83" y="443.30" width="2" height="2" fill="#b0902a"/><rect x="1359.38" y="443.30" width="2" height="2" fill="#b0902a"/><rect x="1368.92" y="443.30" width="2" height="2" fill="#b0902a"/><rect x="1378.46" y="443.30" width="2" height="2" fill="#b0902a"/><rect x="1388.00" y="443.30" width="2" height="2" fill="#b0902a"/><rect x="1407.08" y="443.30" width="2" height="2" fill="#b0902a"/><rect x="1416.62" y="443.30" width="2" height="2" fill="#b0902a"/><rect x="1426.17" y="443.30" width="2" height="2" fill="#b0902a"/><rect x="1435.71" y="443.30" width="2" height="2" fill="#b0902a"/><rect x="1445.25" y="443.30" width="2" height="2" fill="#b0902a"/><rect x="1454.79" y="443.30" width="2" height="2" fill="#b0902a"/><rect x="1464.33" y="443.30" width="2" height="2" fill="#b0902a"/><rect x="1473.88" y="443.30" width="2" height="2" fill="#b0902a"/><rect x="1483.42" y="443.30" width="2" height="2" fill="#b0902a"/><rect x="1492.96" y="443.30" width="2" height="2" fill="#b0902a"/><rect x="1502.50" y="443.30" width="2" height="2" fill="#b0902a"/><rect x="1512.04" y="443.30" width="2" height="2" fill="#b0902a"/><rect x="1521.58" y="443.30" width="2" height="2" fill="#b0902a"/><rect x="1540.67" y="443.30" width="2" height="2" fill="#b0902a"/><rect x="1550.21" y="443.30" width="2" height="2" fill="#b0902a"/><rect x="1559.75" y="443.30" width="2" height="2" fill="#b0902a"/><rect x="1569.29" y="443.30" width="2" height="2" fill="#b0902a"/><rect x="1578.83" y="443.30" width="2" height="2" fill="#b0902a"/><rect x="1588.38" y="443.30" width="2" height="2" fill="#b0902a"/><rect x="1597.92" y="443.30" width="2" height="2" fill="#b0902a"/><rect x="1607.46" y="443.30" width="2" height="2" fill="#b0902a"/><rect x="1617.00" y="443.30" width="2" height="2" fill="#b0902a"/><rect x="1626.54" y="443.30" width="2" height="2" fill="#b0902a"/><rect x="1636.08" y="443.30" width="2" height="2" fill="#b0902a"/><rect x="1645.62" y="443.30" width="2" height="2" fill="#b0902a"/><rect x="1655.17" y="443.30" width="2" height="2" fill="#b0902a"/><rect x="1664.71" y="443.30" width="2" height="2" fill="#b0902a"/><rect x="1674.25" y="443.30" width="2" height="2" fill="#b0902a"/><rect x="1683.79" y="443.30" width="2" height="2" fill="#b0902a"/><rect x="1693.33" y="443.30" width="2" height="2" fill="#b0902a"/><rect x="1702.88" y="443.30" width="2" height="2" fill="#b0902a"/><rect x="1731.50" y="443.30" width="2" height="2" fill="#b0902a"/></svg><svg style="position:absolute;left:1071px;top:451px;overflow:visible" width="682" height="80" viewBox="1071 451 682 80"><path d="M1291.4 467.3 V506.8" stroke="#d6d6d6" stroke-width="1" fill="none"/><path d="M1427.7 467.3 V506.8" stroke="#d6d6d6" stroke-width="1" fill="none"/><path d="M1564.0 467.3 V506.8" stroke="#d6d6d6" stroke-width="1" fill="none"/><path d="M1700.4 467.3 V506.8" stroke="#d6d6d6" stroke-width="1" fill="none"/><path d="M1174.10,506.80 C1175.61,506.80 1180.16,506.80 1183.19,506.80 C1186.22,506.80 1189.25,506.80 1192.28,506.80 C1195.31,506.80 1198.34,506.80 1201.37,506.80 C1204.40,506.80 1207.43,506.80 1210.46,506.80 C1213.49,506.80 1216.52,506.80 1219.55,506.80 C1222.57,506.80 1225.60,512.88 1228.63,506.80 C1231.66,500.72 1234.69,470.30 1237.72,470.30 C1240.75,470.30 1243.78,500.72 1246.81,506.80 C1249.84,512.88 1252.87,506.80 1255.90,506.80 C1258.93,506.80 1261.96,506.80 1264.99,506.80 C1268.02,506.80 1271.05,506.80 1274.08,506.80 C1277.11,506.80 1280.14,506.80 1283.17,506.80 C1286.20,506.80 1289.23,506.80 1292.26,506.80 C1295.29,506.80 1298.32,506.80 1301.35,506.80 C1304.38,506.80 1307.41,506.80 1310.44,506.80 C1313.46,506.80 1316.49,506.80 1319.52,506.80 C1322.55,506.80 1325.58,506.80 1328.61,506.80 C1331.64,506.80 1334.67,508.46 1337.70,506.80 C1340.73,505.14 1343.76,496.83 1346.79,496.83 C1349.82,496.83 1352.85,505.14 1355.88,506.80 C1358.91,508.46 1361.94,512.88 1364.97,506.80 C1368.00,500.72 1371.03,470.30 1374.06,470.30 C1377.09,470.30 1380.12,500.72 1383.15,506.80 C1386.18,512.88 1389.21,507.16 1392.24,506.80 C1395.27,506.44 1398.30,504.67 1401.33,504.67 C1404.35,504.67 1407.38,506.44 1410.41,506.80 C1413.44,507.16 1416.47,506.80 1419.50,506.80 C1422.53,506.80 1425.56,506.80 1428.59,506.80 C1431.62,506.80 1434.65,506.80 1437.68,506.80 C1440.71,506.80 1443.74,506.80 1446.77,506.80 C1449.80,506.80 1452.83,512.88 1455.86,506.80 C1458.89,500.72 1461.92,470.30 1464.95,470.30 C1467.98,470.30 1471.01,500.72 1474.04,506.80 C1477.07,512.88 1480.10,506.80 1483.13,506.80 C1486.16,506.80 1489.19,506.80 1492.22,506.80 C1495.24,506.80 1498.27,506.80 1501.30,506.80 C1504.33,506.80 1507.36,506.80 1510.39,506.80 C1513.42,506.80 1516.45,507.13 1519.48,506.80 C1522.51,506.47 1525.54,504.85 1528.57,504.85 C1531.60,504.85 1534.63,506.47 1537.66,506.80 C1540.69,507.13 1543.72,512.88 1546.75,506.80 C1549.78,500.72 1552.81,470.30 1555.84,470.30 C1558.87,470.30 1561.90,500.72 1564.93,506.80 C1567.96,512.88 1570.99,506.80 1574.02,506.80 C1577.05,506.80 1580.08,506.80 1583.11,506.80 C1586.13,506.80 1589.16,506.80 1592.19,506.80 C1595.22,506.80 1598.25,506.80 1601.28,506.80 C1604.31,506.80 1607.34,506.80 1610.37,506.80 C1613.40,506.80 1616.43,506.80 1619.46,506.80 C1622.49,506.80 1625.52,506.80 1628.55,506.80 C1631.58,506.80 1634.61,512.88 1637.64,506.80 C1640.67,500.72 1643.70,470.30 1646.73,470.30 C1649.76,470.30 1652.79,500.72 1655.82,506.80 C1658.85,512.88 1661.88,506.80 1664.91,506.80 C1667.94,506.80 1670.97,506.80 1674.00,506.80 C1677.02,506.80 1680.05,506.80 1683.08,506.80 C1686.11,506.80 1689.14,507.08 1692.17,506.80 C1695.20,506.52 1698.23,506.02 1701.26,505.10 C1704.29,504.18 1707.32,500.99 1710.35,501.27 C1713.38,501.55 1717.93,505.88 1719.44,506.80 L1718.54,506.8 L1173.20,506.8 Z" fill="#a3c6e6" stroke="none"/><path d="M1174.10,506.80 C1175.61,506.80 1180.16,506.80 1183.19,506.80 C1186.22,506.80 1189.25,506.80 1192.28,506.80 C1195.31,506.80 1198.34,506.80 1201.37,506.80 C1204.40,506.80 1207.43,506.80 1210.46,506.80 C1213.49,506.80 1216.52,506.80 1219.55,506.80 C1222.57,506.80 1225.60,512.88 1228.63,506.80 C1231.66,500.72 1234.69,470.30 1237.72,470.30 C1240.75,470.30 1243.78,500.72 1246.81,506.80 C1249.84,512.88 1252.87,506.80 1255.90,506.80 C1258.93,506.80 1261.96,506.80 1264.99,506.80 C1268.02,506.80 1271.05,506.80 1274.08,506.80 C1277.11,506.80 1280.14,506.80 1283.17,506.80 C1286.20,506.80 1289.23,506.80 1292.26,506.80 C1295.29,506.80 1298.32,506.80 1301.35,506.80 C1304.38,506.80 1307.41,506.80 1310.44,506.80 C1313.46,506.80 1316.49,506.80 1319.52,506.80 C1322.55,506.80 1325.58,506.80 1328.61,506.80 C1331.64,506.80 1334.67,508.46 1337.70,506.80 C1340.73,505.14 1343.76,496.83 1346.79,496.83 C1349.82,496.83 1352.85,505.14 1355.88,506.80 C1358.91,508.46 1361.94,512.88 1364.97,506.80 C1368.00,500.72 1371.03,470.30 1374.06,470.30 C1377.09,470.30 1380.12,500.72 1383.15,506.80 C1386.18,512.88 1389.21,507.16 1392.24,506.80 C1395.27,506.44 1398.30,504.67 1401.33,504.67 C1404.35,504.67 1407.38,506.44 1410.41,506.80 C1413.44,507.16 1416.47,506.80 1419.50,506.80 C1422.53,506.80 1425.56,506.80 1428.59,506.80 C1431.62,506.80 1434.65,506.80 1437.68,506.80 C1440.71,506.80 1443.74,506.80 1446.77,506.80 C1449.80,506.80 1452.83,512.88 1455.86,506.80 C1458.89,500.72 1461.92,470.30 1464.95,470.30 C1467.98,470.30 1471.01,500.72 1474.04,506.80 C1477.07,512.88 1480.10,506.80 1483.13,506.80 C1486.16,506.80 1489.19,506.80 1492.22,506.80 C1495.24,506.80 1498.27,506.80 1501.30,506.80 C1504.33,506.80 1507.36,506.80 1510.39,506.80 C1513.42,506.80 1516.45,507.13 1519.48,506.80 C1522.51,506.47 1525.54,504.85 1528.57,504.85 C1531.60,504.85 1534.63,506.47 1537.66,506.80 C1540.69,507.13 1543.72,512.88 1546.75,506.80 C1549.78,500.72 1552.81,470.30 1555.84,470.30 C1558.87,470.30 1561.90,500.72 1564.93,506.80 C1567.96,512.88 1570.99,506.80 1574.02,506.80 C1577.05,506.80 1580.08,506.80 1583.11,506.80 C1586.13,506.80 1589.16,506.80 1592.19,506.80 C1595.22,506.80 1598.25,506.80 1601.28,506.80 C1604.31,506.80 1607.34,506.80 1610.37,506.80 C1613.40,506.80 1616.43,506.80 1619.46,506.80 C1622.49,506.80 1625.52,506.80 1628.55,506.80 C1631.58,506.80 1634.61,512.88 1637.64,506.80 C1640.67,500.72 1643.70,470.30 1646.73,470.30 C1649.76,470.30 1652.79,500.72 1655.82,506.80 C1658.85,512.88 1661.88,506.80 1664.91,506.80 C1667.94,506.80 1670.97,506.80 1674.00,506.80 C1677.02,506.80 1680.05,506.80 1683.08,506.80 C1686.11,506.80 1689.14,507.08 1692.17,506.80 C1695.20,506.52 1698.23,506.02 1701.26,505.10 C1704.29,504.18 1707.32,500.99 1710.35,501.27 C1713.38,501.55 1717.93,505.88 1719.44,506.80" fill="none" stroke="#2f7ec6" stroke-width="0.9"/><path d="M1173.2 506.6 H1718.5" stroke="#2f7ec6" stroke-width="0.9"/><path d="M1159.5 467.8 H1173.7 V506.8" stroke="#a0a0a0" stroke-width="1" fill="none"/><path d="M1733.0 467.8 H1719.04 V506.8" stroke="#a0a0a0" stroke-width="1" fill="none"/><defs><linearGradient id="sbg107151" x1="0" y1="0" x2="0" y2="1"><stop offset="0" stop-color="#ffffff"/><stop offset="1" stop-color="#cfcfcf"/></linearGradient></defs><rect x="1160.0" y="507.5" width="12.700000000000045" height="14" rx="1.5" fill="url(#sbg107151)" stroke="#4a4a4a" stroke-width="1"/><rect x="1173.7" y="507.5" width="544.3" height="14" rx="2" fill="url(#sbg107151)" stroke="#4a4a4a" stroke-width="1"/><rect x="1719.0" y="507.5" width="13.0" height="14" rx="1.5" fill="url(#sbg107151)" stroke="#4a4a4a" stroke-width="1"/><path d="M1168.7 511.5 V517.5 L1165.5 514.5 Z" fill="#555"/><path d="M1723.8 511.5 V517.5 L1727.0 514.5 Z" fill="#555"/><rect x="1442.4" y="511" width="1.4" height="6.3" fill="#8a8a8a"/><rect x="1445.2" y="511" width="1.4" height="6.3" fill="#8a8a8a"/><rect x="1448.0" y="511" width="1.4" height="6.3" fill="#8a8a8a"/><rect x="1168.9" y="479.2" width="8.6" height="15.3" rx="3.5" fill="#fff" stroke="#555" stroke-width="0.9"/><path d="M1171.9 482.5 V491.3 M1174.5 482.5 V491.3" stroke="#555" stroke-width="0.9"/><rect x="1714.2" y="479.2" width="8.6" height="15.3" rx="3.5" fill="#fff" stroke="#555" stroke-width="0.9"/><path d="M1717.2 482.5 V491.3 M1719.8 482.5 V491.3" stroke="#555" stroke-width="0.9"/></svg><svg style="position:absolute;left:377px;top:647px;overflow:hidden" width="682" height="356" viewBox="377 647 682 356"><path d="M461 721.5 H1038.5" stroke="#d4d4d4" stroke-width="1" fill="none"/><path d="M1038.5 721 V1040.3" stroke="#d4d4d4" stroke-width="1" fill="none"/><path d="M461 774.3 H1038.5" stroke="#d8d8d8" stroke-width="1" fill="none"/><path d="M461 827.5 H1038.5" stroke="#d8d8d8" stroke-width="1" fill="none"/><path d="M461 880.6999999999999 H1038.5" stroke="#d8d8d8" stroke-width="1" fill="none"/><path d="M461 933.9 H1038.5" stroke="#d8d8d8" stroke-width="1" fill="none"/><path d="M461 987.0999999999999 H1038.5" stroke="#d8d8d8" stroke-width="1" fill="none"/><path d="M461 1040.3 H1038.5" stroke="#d8d8d8" stroke-width="1" fill="none"/><path d="M466.3 721 V1040.3" stroke="#cdcdcd" stroke-width="1.5" fill="none"/><polygon points="466.00,1039.40 475.54,1039.40 485.08,1039.40 494.62,1039.40 504.17,1039.40 513.71,1039.40 523.25,1039.40 532.79,771.27 542.33,1039.40 551.88,1039.40 561.42,1039.40 570.96,1039.40 580.50,1039.40 590.04,1039.40 599.58,1039.40 609.12,1039.40 618.67,1039.40 628.21,1039.40 637.75,1039.40 647.29,965.45 656.83,1039.40 666.38,1039.40 675.92,771.27 685.46,1039.40 695.00,1039.40 704.54,1024.50 714.08,1039.40 723.62,1039.40 733.17,1039.40 742.71,1039.40 752.25,1039.40 761.79,1039.40 771.33,771.27 780.88,1039.40 790.42,1039.40 799.96,1039.40 809.50,1039.40 819.04,1039.40 828.58,1039.40 838.12,1025.04 847.67,1039.40 857.21,1039.40 866.75,771.27 876.29,1039.40 885.83,1039.40 895.38,1039.40 904.92,1039.40 914.46,1039.40 924.00,1039.40 933.54,1039.40 943.08,1039.40 952.62,1039.40 962.17,771.27 971.71,1039.40 981.25,1039.40 990.79,1039.40 1000.33,1039.40 1009.88,1039.40 1019.42,1027.70 1028.96,997.37 1038.50,1039.40 1038.50,1039.40 1028.96,997.37 1019.42,1027.70 1009.88,1039.40 1000.33,1039.40 990.79,1039.40 981.25,1039.40 971.71,1039.40 962.17,1039.40 952.62,1039.40 943.08,1039.40 933.54,1039.40 924.00,1039.40 914.46,1039.40 904.92,1039.40 895.38,1039.40 885.83,1039.40 876.29,1039.40 866.75,1039.40 857.21,1039.40 847.67,1039.40 838.12,1025.04 828.58,1039.40 819.04,1039.40 809.50,1039.40 799.96,1039.40 790.42,1039.40 780.88,1039.40 771.33,1039.40 761.79,1039.40 752.25,1039.40 742.71,1039.40 733.17,1039.40 723.62,1039.40 714.08,1039.40 704.54,1024.50 695.00,1039.40 685.46,1039.40 675.92,1039.40 666.38,1039.40 656.83,1039.40 647.29,965.45 637.75,1039.40 628.21,1039.40 618.67,1039.40 609.12,1039.40 599.58,1039.40 590.04,1039.40 580.50,1039.40 570.96,1039.40 561.42,1039.40 551.88,1039.40 542.33,1039.40 532.79,1039.40 523.25,1039.40 513.71,1039.40 504.17,1039.40 494.62,1039.40 485.08,1039.40 475.54,1039.40 466.00,1039.40" fill="rgba(40,92,145,0.82)" stroke="none"/><path d="M523.25,1039.40 L532.79,771.27 M532.79,771.27 L542.33,1039.40 M637.75,1039.40 L647.29,965.45 M647.29,965.45 L656.83,1039.40 M666.38,1039.40 L675.92,771.27 M675.92,771.27 L685.46,1039.40 M695.00,1039.40 L704.54,1024.50 M704.54,1024.50 L714.08,1039.40 M761.79,1039.40 L771.33,771.27 M771.33,771.27 L780.88,1039.40 M828.58,1039.40 L838.12,1025.04 M838.12,1025.04 L847.67,1039.40 M857.21,1039.40 L866.75,771.27 M866.75,771.27 L876.29,1039.40 M952.62,1039.40 L962.17,771.27 M962.17,771.27 L971.71,1039.40 M1009.88,1039.40 L1019.42,1027.70 M1019.42,1027.70 L1028.96,997.37 M1028.96,997.37 L1038.50,1039.40 " fill="none" stroke="#0d4073" stroke-width="1.45" stroke-linejoin="round" stroke-linecap="round"/><polygon points="466.00,1039.40 475.54,1039.40 485.08,1039.40 494.62,1039.40 504.17,1039.40 513.71,1039.40 523.25,1039.40 532.79,1039.40 542.33,1039.40 551.88,1039.40 561.42,1039.40 570.96,1039.40 580.50,1039.40 590.04,1039.40 599.58,1039.40 609.12,1039.40 618.67,1039.40 628.21,1039.40 637.75,1039.40 647.29,965.45 656.83,1039.40 666.38,1039.40 675.92,1039.40 685.46,1039.40 695.00,1039.40 704.54,1024.50 714.08,1039.40 723.62,1039.40 733.17,1039.40 742.71,1039.40 752.25,1039.40 761.79,1039.40 771.33,1039.40 780.88,1039.40 790.42,1039.40 799.96,1039.40 809.50,1039.40 819.04,1039.40 828.58,1039.40 838.12,1025.04 847.67,1039.40 857.21,1039.40 866.75,1039.40 876.29,1039.40 885.83,1039.40 895.38,1039.40 904.92,1039.40 914.46,1039.40 924.00,1039.40 933.54,1039.40 943.08,1039.40 952.62,1039.40 962.17,1039.40 971.71,1039.40 981.25,1039.40 990.79,1039.40 1000.33,1039.40 1009.88,1039.40 1019.42,1027.70 1028.96,997.37 1038.50,1039.40 1038.50,1039.40 1028.96,1039.40 1019.42,1039.40 1009.88,1039.40 1000.33,1039.40 990.79,1039.40 981.25,1039.40 971.71,1039.40 962.17,1039.40 952.62,1039.40 943.08,1039.40 933.54,1039.40 924.00,1039.40 914.46,1039.40 904.92,1039.40 895.38,1039.40 885.83,1039.40 876.29,1039.40 866.75,1039.40 857.21,1039.40 847.67,1039.40 838.12,1039.40 828.58,1039.40 819.04,1039.40 809.50,1039.40 799.96,1039.40 790.42,1039.40 780.88,1039.40 771.33,1039.40 761.79,1039.40 752.25,1039.40 742.71,1039.40 733.17,1039.40 723.62,1039.40 714.08,1039.40 704.54,1039.40 695.00,1039.40 685.46,1039.40 675.92,1039.40 666.38,1039.40 656.83,1039.40 647.29,1039.40 637.75,1039.40 628.21,1039.40 618.67,1039.40 609.12,1039.40 599.58,1039.40 590.04,1039.40 580.50,1039.40 570.96,1039.40 561.42,1039.40 551.88,1039.40 542.33,1039.40 532.79,1039.40 523.25,1039.40 513.71,1039.40 504.17,1039.40 494.62,1039.40 485.08,1039.40 475.54,1039.40 466.00,1039.40" fill="rgba(150,192,228,0.85)" stroke="none"/><polyline points="466.00,1039.40 475.54,1039.40 485.08,1039.40 494.62,1039.40 504.17,1039.40 513.71,1039.40 523.25,1039.40 532.79,1039.40 542.33,1039.40 551.88,1039.40 561.42,1039.40 570.96,1039.40 580.50,1039.40 590.04,1039.40 599.58,1039.40 609.12,1039.40 618.67,1039.40 628.21,1039.40 637.75,1039.40 647.29,965.45 656.83,1039.40 666.38,1039.40 675.92,1039.40 685.46,1039.40 695.00,1039.40 704.54,1024.50 714.08,1039.40 723.62,1039.40 733.17,1039.40 742.71,1039.40 752.25,1039.40 761.79,1039.40 771.33,1039.40 780.88,1039.40 790.42,1039.40 799.96,1039.40 809.50,1039.40 819.04,1039.40 828.58,1039.40 838.12,1025.04 847.67,1039.40 857.21,1039.40 866.75,1039.40 876.29,1039.40 885.83,1039.40 895.38,1039.40 904.92,1039.40 914.46,1039.40 924.00,1039.40 933.54,1039.40 943.08,1039.40 952.62,1039.40 962.17,1039.40 971.71,1039.40 981.25,1039.40 990.79,1039.40 1000.33,1039.40 1009.88,1039.40 1019.42,1027.70 1028.96,997.37 1038.50,1039.40" fill="none" stroke="#6aa5d6" stroke-width="1.45" stroke-linejoin="round"/><rect x="465.00" y="1039.30" width="2" height="2" fill="#0d4073"/><rect x="474.54" y="1039.30" width="2" height="2" fill="#0d4073"/><rect x="484.08" y="1039.30" width="2" height="2" fill="#0d4073"/><rect x="493.62" y="1039.30" width="2" height="2" fill="#0d4073"/><rect x="503.17" y="1039.30" width="2" height="2" fill="#0d4073"/><rect x="512.71" y="1039.30" width="2" height="2" fill="#0d4073"/><rect x="522.25" y="1039.30" width="2" height="2" fill="#0d4073"/><rect x="531.79" y="1039.30" width="2" height="2" fill="#0d4073"/><rect x="541.33" y="1039.30" width="2" height="2" fill="#0d4073"/><rect x="550.88" y="1039.30" width="2" height="2" fill="#0d4073"/><rect x="560.42" y="1039.30" width="2" height="2" fill="#0d4073"/><rect x="569.96" y="1039.30" width="2" height="2" fill="#0d4073"/><rect x="579.50" y="1039.30" width="2" height="2" fill="#0d4073"/><rect x="589.04" y="1039.30" width="2" height="2" fill="#0d4073"/><rect x="598.58" y="1039.30" width="2" height="2" fill="#0d4073"/><rect x="608.12" y="1039.30" width="2" height="2" fill="#0d4073"/><rect x="617.67" y="1039.30" width="2" height="2" fill="#0d4073"/><rect x="627.21" y="1039.30" width="2" height="2" fill="#0d4073"/><rect x="636.75" y="1039.30" width="2" height="2" fill="#0d4073"/><rect x="655.83" y="1039.30" width="2" height="2" fill="#0d4073"/><rect x="665.38" y="1039.30" width="2" height="2" fill="#0d4073"/><rect x="674.92" y="1039.30" width="2" height="2" fill="#0d4073"/><rect x="684.46" y="1039.30" width="2" height="2" fill="#0d4073"/><rect x="694.00" y="1039.30" width="2" height="2" fill="#0d4073"/><rect x="713.08" y="1039.30" width="2" height="2" fill="#0d4073"/><rect x="722.62" y="1039.30" width="2" height="2" fill="#0d4073"/><rect x="732.17" y="1039.30" width="2" height="2" fill="#0d4073"/><rect x="741.71" y="1039.30" width="2" height="2" fill="#0d4073"/><rect x="751.25" y="1039.30" width="2" height="2" fill="#0d4073"/><rect x="760.79" y="1039.30" width="2" height="2" fill="#0d4073"/><rect x="770.33" y="1039.30" width="2" height="2" fill="#0d4073"/><rect x="779.88" y="1039.30" width="2" height="2" fill="#0d4073"/><rect x="789.42" y="1039.30" width="2" height="2" fill="#0d4073"/><rect x="798.96" y="1039.30" width="2" height="2" fill="#0d4073"/><rect x="808.50" y="1039.30" width="2" height="2" fill="#0d4073"/><rect x="818.04" y="1039.30" width="2" height="2" fill="#0d4073"/><rect x="827.58" y="1039.30" width="2" height="2" fill="#0d4073"/><rect x="846.67" y="1039.30" width="2" height="2" fill="#0d4073"/><rect x="856.21" y="1039.30" width="2" height="2" fill="#0d4073"/><rect x="865.75" y="1039.30" width="2" height="2" fill="#0d4073"/><rect x="875.29" y="1039.30" width="2" height="2" fill="#0d4073"/><rect x="884.83" y="1039.30" width="2" height="2" fill="#0d4073"/><rect x="894.38" y="1039.30" width="2" height="2" fill="#0d4073"/><rect x="903.92" y="1039.30" width="2" height="2" fill="#0d4073"/><rect x="913.46" y="1039.30" width="2" height="2" fill="#0d4073"/><rect x="923.00" y="1039.30" width="2" height="2" fill="#0d4073"/><rect x="932.54" y="1039.30" width="2" height="2" fill="#0d4073"/><rect x="942.08" y="1039.30" width="2" height="2" fill="#0d4073"/><rect x="951.62" y="1039.30" width="2" height="2" fill="#0d4073"/><rect x="961.17" y="1039.30" width="2" height="2" fill="#0d4073"/><rect x="970.71" y="1039.30" width="2" height="2" fill="#0d4073"/><rect x="980.25" y="1039.30" width="2" height="2" fill="#0d4073"/><rect x="989.79" y="1039.30" width="2" height="2" fill="#0d4073"/><rect x="999.33" y="1039.30" width="2" height="2" fill="#0d4073"/><rect x="1008.88" y="1039.30" width="2" height="2" fill="#0d4073"/><rect x="1037.50" y="1039.30" width="2" height="2" fill="#0d4073"/></svg><div class="sel" style="left:918px;top:657px;width:68px;height:20px;"></div><svg style="position:absolute;left:1071px;top:710px;overflow:hidden" width="682" height="293" viewBox="1071 710 682 293"><path d="M1155 784.5 H1732.5" stroke="#d4d4d4" stroke-width="1" fill="none"/><path d="M1732.5 784 V1103.3" stroke="#d4d4d4" stroke-width="1" fill="none"/><path d="M1155 837.3 H1732.5" stroke="#d8d8d8" stroke-width="1" fill="none"/><path d="M1155 890.5 H1732.5" stroke="#d8d8d8" stroke-width="1" fill="none"/><path d="M1155 943.6999999999999 H1732.5" stroke="#d8d8d8" stroke-width="1" fill="none"/><path d="M1155 996.9 H1732.5" stroke="#d8d8d8" stroke-width="1" fill="none"/><path d="M1155 1050.1 H1732.5" stroke="#d8d8d8" stroke-width="1" fill="none"/><path d="M1155 1103.3 H1732.5" stroke="#d8d8d8" stroke-width="1" fill="none"/><path d="M1160.3 784 V1103.3" stroke="#cdcdcd" stroke-width="1.5" fill="none"/><polygon points="1160.00,1102.40 1169.54,1102.40 1179.08,1102.40 1188.62,1102.40 1198.17,1102.40 1207.71,1102.40 1217.25,1102.40 1226.79,834.27 1236.33,1102.40 1245.88,1102.40 1255.42,1102.40 1264.96,1102.40 1274.50,1102.40 1284.04,1102.40 1293.58,1102.40 1303.12,1102.40 1312.67,1102.40 1322.21,1102.40 1331.75,1102.40 1341.29,1102.40 1350.83,1102.40 1360.38,1102.40 1369.92,834.27 1379.46,1102.40 1389.00,1102.40 1398.54,1102.40 1408.08,1102.40 1417.62,1102.40 1427.17,1102.40 1436.71,1102.40 1446.25,1102.40 1455.79,1102.40 1465.33,834.27 1474.88,1102.40 1484.42,1102.40 1493.96,1102.40 1503.50,1102.40 1513.04,1102.40 1522.58,1102.40 1532.12,1102.40 1541.67,1102.40 1551.21,1102.40 1560.75,834.27 1570.29,1102.40 1579.83,1102.40 1589.38,1102.40 1598.92,1102.40 1608.46,1102.40 1618.00,1102.40 1627.54,1102.40 1637.08,1102.40 1646.62,1102.40 1656.17,834.27 1665.71,1102.40 1675.25,1102.40 1684.79,1102.40 1694.33,1102.40 1703.88,1102.40 1713.42,1102.40 1722.96,1102.40 1732.50,1102.40 1732.50,1102.40 1722.96,1102.40 1713.42,1102.40 1703.88,1102.40 1694.33,1102.40 1684.79,1102.40 1675.25,1102.40 1665.71,1102.40 1656.17,1102.40 1646.62,1102.40 1637.08,1102.40 1627.54,1102.40 1618.00,1102.40 1608.46,1102.40 1598.92,1102.40 1589.38,1102.40 1579.83,1102.40 1570.29,1102.40 1560.75,1102.40 1551.21,1102.40 1541.67,1102.40 1532.12,1102.40 1522.58,1102.40 1513.04,1102.40 1503.50,1102.40 1493.96,1102.40 1484.42,1102.40 1474.88,1102.40 1465.33,1102.40 1455.79,1102.40 1446.25,1102.40 1436.71,1102.40 1427.17,1102.40 1417.62,1102.40 1408.08,1102.40 1398.54,1102.40 1389.00,1102.40 1379.46,1102.40 1369.92,1102.40 1360.38,1102.40 1350.83,1102.40 1341.29,1102.40 1331.75,1102.40 1322.21,1102.40 1312.67,1102.40 1303.12,1102.40 1293.58,1102.40 1284.04,1102.40 1274.50,1102.40 1264.96,1102.40 1255.42,1102.40 1245.88,1102.40 1236.33,1102.40 1226.79,1102.40 1217.25,1102.40 1207.71,1102.40 1198.17,1102.40 1188.62,1102.40 1179.08,1102.40 1169.54,1102.40 1160.00,1102.40" fill="rgba(40,92,145,0.82)" stroke="none"/><polyline points="1160.00,1102.40 1169.54,1102.40 1179.08,1102.40 1188.62,1102.40 1198.17,1102.40 1207.71,1102.40 1217.25,1102.40 1226.79,834.27 1236.33,1102.40 1245.88,1102.40 1255.42,1102.40 1264.96,1102.40 1274.50,1102.40 1284.04,1102.40 1293.58,1102.40 1303.12,1102.40 1312.67,1102.40 1322.21,1102.40 1331.75,1102.40 1341.29,1102.40 1350.83,1102.40 1360.38,1102.40 1369.92,834.27 1379.46,1102.40 1389.00,1102.40 1398.54,1102.40 1408.08,1102.40 1417.62,1102.40 1427.17,1102.40 1436.71,1102.40 1446.25,1102.40 1455.79,1102.40 1465.33,834.27 1474.88,1102.40 1484.42,1102.40 1493.96,1102.40 1503.50,1102.40 1513.04,1102.40 1522.58,1102.40 1532.12,1102.40 1541.67,1102.40 1551.21,1102.40 1560.75,834.27 1570.29,1102.40 1579.83,1102.40 1589.38,1102.40 1598.92,1102.40 1608.46,1102.40 1618.00,1102.40 1627.54,1102.40 1637.08,1102.40 1646.62,1102.40 1656.17,834.27 1665.71,1102.40 1675.25,1102.40 1684.79,1102.40 1694.33,1102.40 1703.88,1102.40 1713.42,1102.40 1722.96,1102.40 1732.50,1102.40" fill="none" stroke="#0d4073" stroke-width="1.45" stroke-linejoin="round"/><rect x="1159.00" y="1102.30" width="2" height="2" fill="#0d4073"/><rect x="1168.54" y="1102.30" width="2" height="2" fill="#0d4073"/><rect x="1178.08" y="1102.30" width="2" height="2" fill="#0d4073"/><rect x="1187.62" y="1102.30" width="2" height="2" fill="#0d4073"/><rect x="1197.17" y="1102.30" width="2" height="2" fill="#0d4073"/><rect x="1206.71" y="1102.30" width="2" height="2" fill="#0d4073"/><rect x="1216.25" y="1102.30" width="2" height="2" fill="#0d4073"/><rect x="1235.33" y="1102.30" width="2" height="2" fill="#0d4073"/><rect x="1244.88" y="1102.30" width="2" height="2" fill="#0d4073"/><rect x="1254.42" y="1102.30" width="2" height="2" fill="#0d4073"/><rect x="1263.96" y="1102.30" width="2" height="2" fill="#0d4073"/><rect x="1273.50" y="1102.30" width="2" height="2" fill="#0d4073"/><rect x="1283.04" y="1102.30" width="2" height="2" fill="#0d4073"/><rect x="1292.58" y="1102.30" width="2" height="2" fill="#0d4073"/><rect x="1302.12" y="1102.30" width="2" height="2" fill="#0d4073"/><rect x="1311.67" y="1102.30" width="2" height="2" fill="#0d4073"/><rect x="1321.21" y="1102.30" width="2" height="2" fill="#0d4073"/><rect x="1330.75" y="1102.30" width="2" height="2" fill="#0d4073"/><rect x="1340.29" y="1102.30" width="2" height="2" fill="#0d4073"/><rect x="1349.83" y="1102.30" width="2" height="2" fill="#0d4073"/><rect x="1359.38" y="1102.30" width="2" height="2" fill="#0d4073"/><rect x="1378.46" y="1102.30" width="2" height="2" fill="#0d4073"/><rect x="1388.00" y="1102.30" width="2" height="2" fill="#0d4073"/><rect x="1397.54" y="1102.30" width="2" height="2" fill="#0d4073"/><rect x="1407.08" y="1102.30" width="2" height="2" fill="#0d4073"/><rect x="1416.62" y="1102.30" width="2" height="2" fill="#0d4073"/><rect x="1426.17" y="1102.30" width="2" height="2" fill="#0d4073"/><rect x="1435.71" y="1102.30" width="2" height="2" fill="#0d4073"/><rect x="1445.25" y="1102.30" width="2" height="2" fill="#0d4073"/><rect x="1454.79" y="1102.30" width="2" height="2" fill="#0d4073"/><rect x="1473.88" y="1102.30" width="2" height="2" fill="#0d4073"/><rect x="1483.42" y="1102.30" width="2" height="2" fill="#0d4073"/><rect x="1492.96" y="1102.30" width="2" height="2" fill="#0d4073"/><rect x="1502.50" y="1102.30" width="2" height="2" fill="#0d4073"/><rect x="1512.04" y="1102.30" width="2" height="2" fill="#0d4073"/><rect x="1521.58" y="1102.30" width="2" height="2" fill="#0d4073"/><rect x="1531.12" y="1102.30" width="2" height="2" fill="#0d4073"/><rect x="1540.67" y="1102.30" width="2" height="2" fill="#0d4073"/><rect x="1550.21" y="1102.30" width="2" height="2" fill="#0d4073"/><rect x="1569.29" y="1102.30" width="2" height="2" fill="#0d4073"/><rect x="1578.83" y="1102.30" width="2" height="2" fill="#0d4073"/><rect x="1588.38" y="1102.30" width="2" height="2" fill="#0d4073"/><rect x="1597.92" y="1102.30" width="2" height="2" fill="#0d4073"/><rect x="1607.46" y="1102.30" width="2" height="2" fill="#0d4073"/><rect x="1617.00" y="1102.30" width="2" height="2" fill="#0d4073"/><rect x="1626.54" y="1102.30" width="2" height="2" fill="#0d4073"/><rect x="1636.08" y="1102.30" width="2" height="2" fill="#0d4073"/><rect x="1645.62" y="1102.30" width="2" height="2" fill="#0d4073"/><rect x="1664.71" y="1102.30" width="2" height="2" fill="#0d4073"/><rect x="1674.25" y="1102.30" width="2" height="2" fill="#0d4073"/><rect x="1683.79" y="1102.30" width="2" height="2" fill="#0d4073"/><rect x="1693.33" y="1102.30" width="2" height="2" fill="#0d4073"/><rect x="1702.88" y="1102.30" width="2" height="2" fill="#0d4073"/><rect x="1712.42" y="1102.30" width="2" height="2" fill="#0d4073"/><rect x="1721.96" y="1102.30" width="2" height="2" fill="#0d4073"/><rect x="1731.50" y="1102.30" width="2" height="2" fill="#0d4073"/></svg>
<div class="t " style="left:47.0px;top:29.6px;font-size:12px;line-height:12px;color:#333;transform:scaleX(0.9143);transform-origin:0 0;">Applications shown only: <b>World Wide Web HTTP (80)</b> or <b>http protocol over TLS/SSL (443)</b> | IP Address Group shown only: <b>Finance and Accounting</b></div><div class="t hz" style="left:9.5px;top:14px;font-size:17px;line-height:17px;color:#e8e8e8;transform:scaleX(0.9525);transform-origin:0 0;-webkit-text-stroke:0.35px #e8e8e8;">solarwinds</div><div class="t hz" style="left:127.3px;top:13.0px;font-size:12.8px;line-height:12.8px;color:#f2f2f2;transform:scaleX(0.8838);transform-origin:0 0;-webkit-text-stroke:0.25px #f2f2f2;">MY DASHBOARDS</div><div class="t hz" style="left:270.9px;top:13.0px;font-size:12.8px;line-height:12.8px;color:#f2f2f2;transform:scaleX(0.8584);transform-origin:0 0;-webkit-text-stroke:0.25px #f2f2f2;">ALERTS &amp; ACTIVITY</div><div class="t hz" style="left:420.1px;top:13.0px;font-size:12.8px;line-height:12.8px;color:#f2f2f2;transform:scaleX(0.8290);transform-origin:0 0;-webkit-text-stroke:0.25px #f2f2f2;">REPORTS</div><div class="t hz" style="left:515.6px;top:13.0px;font-size:12.8px;line-height:12.8px;color:#f2f2f2;transform:scaleX(0.8391);transform-origin:0 0;-webkit-text-stroke:0.25px #f2f2f2;">SETTINGS</div><div class="t hz" style="left:1594.9px;top:5.5px;font-size:11px;line-height:11px;color:#fff;">6</div><div class="t hz" style="left:1672.8px;top:14.3px;font-size:10.8px;line-height:10.8px;color:#f2f2f2;transform:scaleX(0.9097);transform-origin:0 0;-webkit-text-stroke:0.2px #f2f2f2;">ADMIN (LOGOUT)</div><div class="t " style="left:49.4px;top:243.4px;font-size:13px;line-height:13px;color:#2e2e2e;font-weight:700;transform:scaleX(0.8642);transform-origin:0 0;">CREATE A FLOW ALERT</div><div class="t " style="left:283.9px;top:242.7px;font-size:11px;line-height:11px;color:#23749a;font-weight:700;transform:scaleX(0.8383);transform-origin:0 0;">HELP</div><div class="t " style="left:41.7px;top:301px;font-size:12px;line-height:12px;color:#2d2d2d;font-weight:700;letter-spacing:0.265px;">Netflow Source</div><div class="t " style="left:41.3px;top:333.6px;font-size:12px;line-height:12px;color:#2d2d2d;letter-spacing:0.311px;">The alert will trigger on flow data received from Node</div><div class="t " style="left:41.3px;top:350.7px;font-size:12px;line-height:12px;color:#2d2d2d;transform:scaleX(0.9725);transform-origin:0 0;"><b>ENG-AUS-NET-185</b>.</div><div class="t " style="left:41.3px;top:394.4px;font-size:12px;line-height:12px;color:#2d2d2d;font-weight:700;letter-spacing:0.471px;">Alert Name</div><div class="t " style="left:43.3px;top:427.9px;font-size:12.5px;line-height:12.5px;color:#111;transform:scaleX(0.9603);transform-origin:0 0;">NTA Alert on ENG-AUS-NET-185</div><div class="t " style="left:41.0px;top:472px;font-size:12px;line-height:12px;color:#2d2d2d;font-weight:700;letter-spacing:0.242px;">Severity</div><div class="t " style="left:50.3px;top:505.70000000000005px;font-size:12px;line-height:12px;color:#111;letter-spacing:0.097px;">Notice</div><div class="t " style="left:41.0px;top:551.1px;font-size:12px;line-height:12px;color:#2d2d2d;font-weight:700;letter-spacing:0.194px;">Trigger Condition</div><div class="t " style="left:50.3px;top:584.8px;font-size:12px;line-height:12px;color:#111;letter-spacing:0.111px;">Application traffic exceeds threshold</div><div class="t " style="left:50.3px;top:616px;font-size:12px;line-height:12px;color:#111;letter-spacing:0.061px;">Ingress Traffic</div><div class="t " style="left:177.5px;top:616.5px;font-size:12px;line-height:12px;color:#111;">&gt;</div><div class="t " style="left:220.0px;top:615px;font-size:12px;line-height:12px;color:#111;letter-spacing:0.234px;">400</div><div class="t " style="left:304.0px;top:615.2px;font-size:12px;line-height:12px;color:#111;transform:scaleX(0.9869);transform-origin:0 0;">Kbps</div><div class="t " style="left:41.0px;top:657.9px;font-size:12px;line-height:12px;color:#2d2d2d;letter-spacing:0.212px;">The alert will check the last</div><div class="t " style="left:197.0px;top:658px;font-size:12px;line-height:12px;color:#111;">5</div><div class="t " style="left:221.6px;top:657.9px;font-size:12px;line-height:12px;color:#2d2d2d;letter-spacing:0.287px;">minutes of Flow data.</div><div class="t " style="left:41.4px;top:709.6px;font-size:12px;line-height:12px;color:#2d2d2d;letter-spacing:0.311px;">For traffic matching the current Flow Navigator filters:</div><div class="t " style="left:51.3px;top:738.3px;font-size:12px;line-height:12px;color:#2d2d2d;letter-spacing:0.212px;">Included Applications: <b>World Wide Web HTTP (80)</b></div><div class="t " style="left:51.3px;top:755.5px;font-size:12px;line-height:12px;color:#2d2d2d;letter-spacing:0.108px;">and <b>http protocol over TLS/SSL (443)</b></div><div class="t " style="left:51.3px;top:772.5px;font-size:12px;line-height:12px;color:#2d2d2d;letter-spacing:0.181px;">Included IP Address Group: <b>Finance and</b></div><div class="t " style="left:51.3px;top:789.7px;font-size:12px;line-height:12px;color:#2d2d2d;letter-spacing:0.056px;"><b>Accounting</b></div><div class="t " style="left:75.5px;top:840.1px;font-size:12px;line-height:12px;color:#2d2d2d;letter-spacing:0.290px;"><b>There are more options available.</b> Open this</div><div class="t " style="left:50.1px;top:857px;font-size:12px;line-height:12px;color:#2d2d2d;letter-spacing:0.322px;">alert in Alert wizard to configure email sending, time</div><div class="t " style="left:50.1px;top:873.6px;font-size:12px;line-height:12px;color:#2d2d2d;letter-spacing:0.314px;">frames, and more.</div><div class="t " style="left:68.6px;top:902.9px;font-size:12px;line-height:12px;color:#2d2d2d;letter-spacing:0.271px;">Open this alert in Alert wizard before saving.</div><div class="t " style="left:52.3px;top:949.2px;font-size:11px;line-height:11px;color:#fff;transform:scaleX(0.8955);transform-origin:0 0;-webkit-text-stroke:0.2px #fff;">CREATE ALERT</div><div class="t " style="left:387.0px;top:64.1px;font-size:14px;line-height:14px;color:#2b2b2b;font-weight:700;letter-spacing:0.124px;">Top 10 Protocols</div><div class="t " style="left:387.5px;top:82.9px;font-size:10px;line-height:10px;color:#333;transform:scaleX(0.9116);transform-origin:0 0;">INGRESS, LAST 1 HOURS, RATE</div><div class="t " style="left:999.3px;top:61.0px;font-size:10.5px;line-height:10.5px;color:#2b7fa3;transform:scaleX(0.8528);transform-origin:0 0;">EDIT</div><div class="t " style="left:1025.3px;top:61.0px;font-size:10.5px;line-height:10.5px;color:#2b7fa3;transform:scaleX(0.8565);transform-origin:0 0;">HELP</div><div class="t " style="left:387.0px;top:660.1px;font-size:14px;line-height:14px;color:#2b2b2b;font-weight:700;letter-spacing:0.196px;">Top 10 Applications</div><div class="t " style="left:387.5px;top:678.9px;font-size:10px;line-height:10px;color:#333;transform:scaleX(0.9116);transform-origin:0 0;">INGRESS, LAST 1 HOURS, RATE</div><div class="t " style="left:999.3px;top:657.0px;font-size:10.5px;line-height:10.5px;color:#2b7fa3;transform:scaleX(0.8528);transform-origin:0 0;">EDIT</div><div class="t " style="left:1025.3px;top:657.0px;font-size:10.5px;line-height:10.5px;color:#2b7fa3;transform:scaleX(0.8565);transform-origin:0 0;">HELP</div><div class="t " style="left:1081.0px;top:64.1px;font-size:14px;line-height:14px;color:#2b2b2b;font-weight:700;letter-spacing:0.166px;">Top 10 Endpoints</div><div class="t " style="left:1081.5px;top:82.9px;font-size:10px;line-height:10px;color:#333;transform:scaleX(0.9148);transform-origin:0 0;">INGRESS, LAST 1 HOURS, RATE</div><div class="t " style="left:1693.3px;top:61.0px;font-size:10.5px;line-height:10.5px;color:#2b7fa3;transform:scaleX(0.8528);transform-origin:0 0;">EDIT</div><div class="t " style="left:1719.3px;top:61.0px;font-size:10.5px;line-height:10.5px;color:#2b7fa3;transform:scaleX(0.8565);transform-origin:0 0;">HELP</div><div class="t " style="left:1081.0px;top:723.1px;font-size:14px;line-height:14px;color:#2b2b2b;font-weight:700;letter-spacing:0.179px;">Top 10 IPv4 Domains</div><div class="t " style="left:1081.5px;top:741.9px;font-size:10px;line-height:10px;color:#333;transform:scaleX(0.9116);transform-origin:0 0;">INGRESS, LAST 1 HOURS, RATE</div><div class="t " style="left:1693.3px;top:720.0px;font-size:10.5px;line-height:10.5px;color:#2b7fa3;transform:scaleX(0.8528);transform-origin:0 0;">EDIT</div><div class="t " style="left:1719.3px;top:720.0px;font-size:10.5px;line-height:10.5px;color:#2b7fa3;transform:scaleX(0.8565);transform-origin:0 0;">HELP</div><div class="t " style="left:398.0px;top:167.10000000000002px;font-size:11px;line-height:11px;color:#555;letter-spacing:0.619px;">500.0 kbps</div><div class="t " style="left:398.0px;top:220.3px;font-size:11px;line-height:11px;color:#555;letter-spacing:0.619px;">400.0 kbps</div><div class="t " style="left:398.0px;top:273.5px;font-size:11px;line-height:11px;color:#555;letter-spacing:0.619px;">300.0 kbps</div><div class="t " style="left:398.0px;top:326.7px;font-size:11px;line-height:11px;color:#555;letter-spacing:0.619px;">200.0 kbps</div><div class="t " style="left:398.0px;top:379.90000000000003px;font-size:11px;line-height:11px;color:#555;letter-spacing:0.619px;">100.0 kbps</div><div class="t " style="left:428.5px;top:433.1px;font-size:11px;line-height:11px;color:#555;letter-spacing:0.495px;">0 bps</div><div class="t " style="left:522.0px;top:449.0px;font-size:10.8px;line-height:10.8px;color:#555;letter-spacing:0.247px;">3:40 PM</div><div class="t " style="left:617.4px;top:449.0px;font-size:10.8px;line-height:10.8px;color:#555;letter-spacing:0.247px;">3:50 PM</div><div class="t " style="left:712.4px;top:449.0px;font-size:10.8px;line-height:10.8px;color:#555;letter-spacing:0.380px;">4:00 PM</div><div class="t " style="left:808.8px;top:449.0px;font-size:10.8px;line-height:10.8px;color:#555;letter-spacing:0.047px;">4:10 PM</div><div class="t " style="left:903.2px;top:449.0px;font-size:10.8px;line-height:10.8px;color:#555;letter-spacing:0.380px;">4:20 PM</div><div class="t " style="left:996.2px;top:449.0px;font-size:10.8px;line-height:10.8px;color:#555;letter-spacing:0.347px;">4:30 PM</div><div style="position:absolute;left:377px;top:481px;width:672px;height:26px;overflow:hidden"><div class="t " style="left:224.7px;top:12.800000000000011px;font-size:10.5px;line-height:10.5px;color:#555;letter-spacing:0.582px;">3:45 PM</div></div><div style="position:absolute;left:377px;top:481px;width:672px;height:26px;overflow:hidden"><div class="t " style="left:361.0px;top:12.800000000000011px;font-size:10.5px;line-height:10.5px;color:#555;letter-spacing:0.582px;">4:00 PM</div></div><div style="position:absolute;left:377px;top:481px;width:672px;height:26px;overflow:hidden"><div class="t " style="left:497.3px;top:12.800000000000011px;font-size:10.5px;line-height:10.5px;color:#555;letter-spacing:0.582px;">4:15 PM</div></div><div style="position:absolute;left:377px;top:481px;width:672px;height:26px;overflow:hidden"><div class="t " style="left:633.7px;top:12.800000000000011px;font-size:10.5px;line-height:10.5px;color:#555;letter-spacing:0.582px;">4:30 PM</div></div><div class="t " style="left:452.3px;top:559.1px;font-size:12.5px;line-height:12.5px;color:#333;transform:scaleX(0.8939);transform-origin:0 0;">PROTOCOL</div><div class="t " style="left:678.1px;top:550.9px;font-size:12.5px;line-height:12.5px;color:#333;transform:scaleX(0.8531);transform-origin:0 0;">INGRESS</div><div class="t " style="left:678.1px;top:567.9px;font-size:12.5px;line-height:12.5px;color:#333;transform:scaleX(0.8317);transform-origin:0 0;">BYTES</div><div class="t " style="left:839.5px;top:550.9px;font-size:12.5px;line-height:12.5px;color:#333;transform:scaleX(0.8424);transform-origin:0 0;">INGRESS</div><div class="t " style="left:839.5px;top:567.9px;font-size:12.5px;line-height:12.5px;color:#333;transform:scaleX(0.8446);transform-origin:0 0;">PACKETS</div><div class="t " style="left:943.5px;top:559.1px;font-size:12.5px;line-height:12.5px;color:#333;transform:scaleX(0.8404);transform-origin:0 0;">PERCENT</div><div class="t " style="left:471.2px;top:589.3000000000001px;font-size:12.5px;line-height:12.5px;color:#1d7cad;transform:scaleX(0.8320);transform-origin:0 0;">TCP</div><div class="t " style="left:678.1px;top:589.3000000000001px;font-size:12.5px;line-height:12.5px;color:#333;transform:scaleX(0.9854);transform-origin:0 0;">21.1 Mbytes</div><div class="t " style="left:839.5px;top:589.3000000000001px;font-size:12.5px;line-height:12.5px;color:#333;transform:scaleX(0.9512);transform-origin:0 0;">16.5 k</div><div class="t " style="left:943.5px;top:589.3000000000001px;font-size:12.5px;line-height:12.5px;color:#333;transform:scaleX(0.9161);transform-origin:0 0;">100%</div><div class="t " style="left:471.7px;top:610.3000000000001px;font-size:12.5px;line-height:12.5px;color:#333;letter-spacing:0.084px;">Remaining traffic</div><div class="t " style="left:678.1px;top:610.3000000000001px;font-size:12.5px;line-height:12.5px;color:#333;transform:scaleX(0.9823);transform-origin:0 0;">0 bytes</div><div class="t " style="left:839.5px;top:610.3000000000001px;font-size:12.5px;line-height:12.5px;color:#333;">0</div><div class="t " style="left:943.5px;top:610.3000000000001px;font-size:12.5px;line-height:12.5px;color:#333;transform:scaleX(0.8519);transform-origin:0 0;">0%</div><div class="t " style="left:1146.0px;top:559.1px;font-size:12.5px;line-height:12.5px;color:#333;transform:scaleX(0.8822);transform-origin:0 0;">HOSTNAME</div><div class="t " style="left:1418.0px;top:550.9px;font-size:12.5px;line-height:12.5px;color:#333;transform:scaleX(0.8531);transform-origin:0 0;">INGRESS</div><div class="t " style="left:1418.0px;top:567.9px;font-size:12.5px;line-height:12.5px;color:#333;transform:scaleX(0.8317);transform-origin:0 0;">BYTES</div><div class="t " style="left:1558.9px;top:550.9px;font-size:12.5px;line-height:12.5px;color:#333;transform:scaleX(0.8424);transform-origin:0 0;">INGRESS</div><div class="t " style="left:1558.9px;top:567.9px;font-size:12.5px;line-height:12.5px;color:#333;transform:scaleX(0.8446);transform-origin:0 0;">PACKETS</div><div class="t " style="left:1650.1px;top:559.1px;font-size:12.5px;line-height:12.5px;color:#333;transform:scaleX(0.8404);transform-origin:0 0;">PERCENT</div><div class="t " style="left:1164.9px;top:589.3000000000001px;font-size:12.5px;line-height:12.5px;color:#1d7cad;transform:scaleX(0.9386);transform-origin:0 0;">ENG-AUS-NET-185.lab.na</div><div class="t " style="left:1418.0px;top:589.3000000000001px;font-size:12.5px;line-height:12.5px;color:#333;transform:scaleX(0.9957);transform-origin:0 0;">21.1 Mbytes</div><div class="t " style="left:1558.9px;top:589.3000000000001px;font-size:12.5px;line-height:12.5px;color:#333;transform:scaleX(0.9659);transform-origin:0 0;">16.5 k</div><div class="t " style="left:1650.1px;top:589.3000000000001px;font-size:12.5px;line-height:12.5px;color:#333;transform:scaleX(0.9189);transform-origin:0 0;">50%</div><div class="t " style="left:1164.9px;top:610.3000000000001px;font-size:12.5px;line-height:12.5px;color:#1d7cad;transform:scaleX(0.9884);transform-origin:0 0;">10.199.14.118</div><div class="t " style="left:1418.0px;top:610.3000000000001px;font-size:12.5px;line-height:12.5px;color:#333;transform:scaleX(0.9957);transform-origin:0 0;">18.9 Mbytes</div><div class="t " style="left:1558.9px;top:610.3000000000001px;font-size:12.5px;line-height:12.5px;color:#333;transform:scaleX(0.9728);transform-origin:0 0;">12.96 k</div><div class="t " style="left:1650.1px;top:610.3000000000001px;font-size:12.5px;line-height:12.5px;color:#333;transform:scaleX(0.9503);transform-origin:0 0;">44.86%</div><div class="t " style="left:1164.9px;top:631.3000000000001px;font-size:12.5px;line-height:12.5px;color:#1d7cad;">10.111.229.80</div><div class="t " style="left:1418.0px;top:631.3000000000001px;font-size:12.5px;line-height:12.5px;color:#333;transform:scaleX(0.9944);transform-origin:0 0;">2.1 Mbytes</div><div class="t " style="left:1558.9px;top:631.3000000000001px;font-size:12.5px;line-height:12.5px;color:#333;transform:scaleX(0.9554);transform-origin:0 0;">3.5 k</div><div class="t " style="left:1650.1px;top:631.3000000000001px;font-size:12.5px;line-height:12.5px;color:#333;transform:scaleX(0.9280);transform-origin:0 0;">5.01%</div><div class="t " style="left:1164.9px;top:652.3000000000001px;font-size:12.5px;line-height:12.5px;color:#1d7cad;transform:scaleX(0.9884);transform-origin:0 0;">74.115.13.122</div><div class="t " style="left:1418.0px;top:652.3000000000001px;font-size:12.5px;line-height:12.5px;color:#333;transform:scaleX(0.9822);transform-origin:0 0;">53.7 kbytes</div><div class="t " style="left:1558.9px;top:652.3000000000001px;font-size:12.5px;line-height:12.5px;color:#333;transform:scaleX(0.9420);transform-origin:0 0;">39</div><div class="t " style="left:1650.1px;top:652.3000000000001px;font-size:12.5px;line-height:12.5px;color:#333;transform:scaleX(0.9280);transform-origin:0 0;">0.13%</div><div class="t " style="left:1165.4px;top:673.3000000000001px;font-size:12.5px;line-height:12.5px;color:#333;letter-spacing:0.084px;">Remaining traffic</div><div class="t " style="left:1418.0px;top:673.3000000000001px;font-size:12.5px;line-height:12.5px;color:#333;transform:scaleX(0.9774);transform-origin:0 0;">0 bytes</div><div class="t " style="left:1558.9px;top:673.3000000000001px;font-size:12.5px;line-height:12.5px;color:#333;">0</div><div class="t " style="left:1650.1px;top:673.3000000000001px;font-size:12.5px;line-height:12.5px;color:#333;transform:scaleX(0.8519);transform-origin:0 0;">0%</div><div class="t " style="left:1103.1px;top:178.3px;font-size:11px;line-height:11px;color:#555;letter-spacing:0.436px;">1.0 Mbps</div><div class="t " style="left:1092.0px;top:242.0px;font-size:11px;line-height:11px;color:#555;letter-spacing:0.619px;">750.0 kbps</div><div class="t " style="left:1092.0px;top:305.7px;font-size:11px;line-height:11px;color:#555;letter-spacing:0.619px;">500.0 kbps</div><div class="t " style="left:1092.0px;top:369.40000000000003px;font-size:11px;line-height:11px;color:#555;letter-spacing:0.619px;">250.0 kbps</div><div class="t " style="left:1122.5px;top:433.1px;font-size:11px;line-height:11px;color:#555;letter-spacing:0.495px;">0 bps</div><div class="t " style="left:1216.0px;top:449.0px;font-size:10.8px;line-height:10.8px;color:#555;letter-spacing:0.247px;">3:40 PM</div><div class="t " style="left:1311.4px;top:449.0px;font-size:10.8px;line-height:10.8px;color:#555;letter-spacing:0.247px;">3:50 PM</div><div class="t " style="left:1406.4px;top:449.0px;font-size:10.8px;line-height:10.8px;color:#555;letter-spacing:0.380px;">4:00 PM</div><div class="t " style="left:1502.8px;top:449.0px;font-size:10.8px;line-height:10.8px;color:#555;letter-spacing:0.047px;">4:10 PM</div><div class="t " style="left:1597.2px;top:449.0px;font-size:10.8px;line-height:10.8px;color:#555;letter-spacing:0.380px;">4:20 PM</div><div class="t " style="left:1690.2px;top:449.0px;font-size:10.8px;line-height:10.8px;color:#555;letter-spacing:0.347px;">4:30 PM</div><div style="position:absolute;left:1071px;top:481px;width:672px;height:26px;overflow:hidden"><div class="t " style="left:224.7px;top:12.800000000000011px;font-size:10.5px;line-height:10.5px;color:#555;letter-spacing:0.582px;">3:45 PM</div></div><div style="position:absolute;left:1071px;top:481px;width:672px;height:26px;overflow:hidden"><div class="t " style="left:361.0px;top:12.800000000000011px;font-size:10.5px;line-height:10.5px;color:#555;letter-spacing:0.582px;">4:00 PM</div></div><div style="position:absolute;left:1071px;top:481px;width:672px;height:26px;overflow:hidden"><div class="t " style="left:497.3px;top:12.800000000000011px;font-size:10.5px;line-height:10.5px;color:#555;letter-spacing:0.582px;">4:15 PM</div></div><div style="position:absolute;left:1071px;top:481px;width:672px;height:26px;overflow:hidden"><div class="t " style="left:633.7px;top:12.800000000000011px;font-size:10.5px;line-height:10.5px;color:#555;letter-spacing:0.582px;">4:30 PM</div></div><div class="t " style="left:398.0px;top:763.0999999999999px;font-size:11px;line-height:11px;color:#555;letter-spacing:0.619px;">500.0 kbps</div><div class="t " style="left:398.0px;top:816.3px;font-size:11px;line-height:11px;color:#555;letter-spacing:0.619px;">400.0 kbps</div><div class="t " style="left:398.0px;top:869.4999999999999px;font-size:11px;line-height:11px;color:#555;letter-spacing:0.619px;">300.0 kbps</div><div class="t " style="left:398.0px;top:922.6999999999999px;font-size:11px;line-height:11px;color:#555;letter-spacing:0.619px;">200.0 kbps</div><div class="t " style="left:398.0px;top:975.8999999999999px;font-size:11px;line-height:11px;color:#555;letter-spacing:0.619px;">100.0 kbps</div><div class="t " style="left:428.5px;top:1029.1px;font-size:11px;line-height:11px;color:#555;letter-spacing:0.495px;">0 bps</div><div class="t " style="left:927.4px;top:661.2px;font-size:12.3px;line-height:12.3px;color:#111;transform:scaleX(0.9599);transform-origin:0 0;">NetFlow</div><div class="t " style="left:1092.0px;top:826.0999999999999px;font-size:11px;line-height:11px;color:#555;letter-spacing:0.619px;">500.0 kbps</div><div class="t " style="left:1092.0px;top:879.3px;font-size:11px;line-height:11px;color:#555;letter-spacing:0.619px;">400.0 kbps</div><div class="t " style="left:1092.0px;top:932.4999999999999px;font-size:11px;line-height:11px;color:#555;letter-spacing:0.619px;">300.0 kbps</div><div class="t " style="left:1092.0px;top:985.6999999999999px;font-size:11px;line-height:11px;color:#555;letter-spacing:0.619px;">200.0 kbps</div><div class="t " style="left:1092.0px;top:1038.8999999999999px;font-size:11px;line-height:11px;color:#555;letter-spacing:0.619px;">100.0 kbps</div><div class="t " style="left:1122.5px;top:1092.1px;font-size:11px;line-height:11px;color:#555;letter-spacing:0.495px;">0 bps</div>
<div class="vt" style="left:36.5px;top:199.6px;transform:rotate(-90deg) scaleX(0.985);">Flow Navigator</div><div style="position:absolute;left:0;top:958px;width:1816px;height:45px;background:linear-gradient(rgba(0,0,0,0),rgba(0,0,0,0.03));z-index:5;pointer-events:none"></div>
</body></html>
